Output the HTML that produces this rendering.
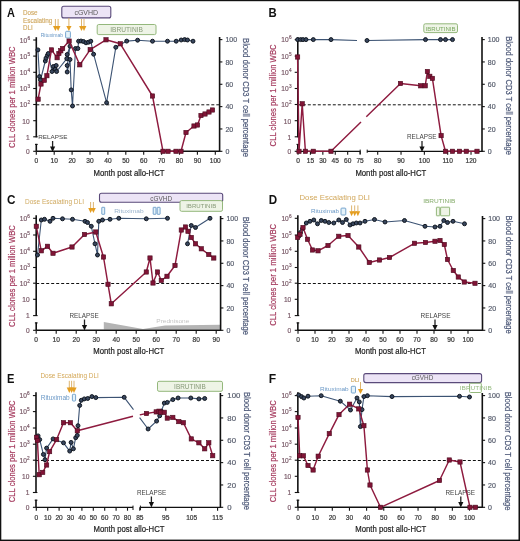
<!DOCTYPE html>
<html><head><meta charset="utf-8"><style>
html,body{margin:0;padding:0;background:#fff;}
body{width:520px;height:541px;overflow:hidden;font-family:"Liberation Sans", sans-serif;}
svg{display:block;will-change:transform;}
</style></head><body>
<svg width="520" height="541" viewBox="0 0 520 541" font-family='"Liberation Sans", sans-serif'><rect x="0" y="0" width="520" height="1.2" fill="#111"/>
<rect x="0" y="0" width="1.3" height="541" fill="#111"/>
<rect x="518.5" y="0" width="1.5" height="541" fill="#111"/>
<rect x="0" y="539.6" width="520" height="1.4" fill="#111"/>
<text transform="translate(7.1 17.1) scale(0.882 1)" font-size="12.4" font-weight="bold" fill="#111">A</text>
<text x="23" y="15.0" font-size="6.9" fill="#d0a962" text-anchor="start" textLength="14.6" lengthAdjust="spacingAndGlyphs" stroke="#d0a962" stroke-width="0.15">Dose</text>
<text x="23" y="22.6" font-size="6.9" fill="#d0a962" text-anchor="start" textLength="29.4" lengthAdjust="spacingAndGlyphs" stroke="#d0a962" stroke-width="0.15">Escalating</text>
<text x="23" y="30.2" font-size="6.9" fill="#d0a962" text-anchor="start" textLength="9.6" lengthAdjust="spacingAndGlyphs" stroke="#d0a962" stroke-width="0.15">DLI</text>
<rect x="61.8" y="6.3" width="49.0" height="11.599999999999998" rx="2" fill="#ece4f6" stroke="#5a4a7a" stroke-width="1.1"/>
<text x="86.3" y="14.6" font-size="7" fill="#5a5a5a" text-anchor="middle">cGVHD</text>
<rect x="97.2" y="24.5" width="58.8" height="10.100000000000001" rx="1.5" fill="#eef4e6" stroke="#94b87c" stroke-width="1"/>
<text x="126.6" y="32.0" font-size="6.6" fill="#879a78" text-anchor="middle">IBRUTINIB</text>
<text x="40.7" y="37.4" font-size="5.0" fill="#6a98c6" text-anchor="start" textLength="22.5" lengthAdjust="spacingAndGlyphs">Rituximab</text>
<rect x="65.6" y="31.3" width="4.800000000000011" height="6.699999999999999" rx="1" fill="#e4f2fa" stroke="#6a9cc8" stroke-width="0.9"/>
<line x1="55.4" y1="19" x2="55.4" y2="26.5" stroke="#d9ad62" stroke-width="0.9"/>
<path d="M53.00,26.00 L57.80,26.00 L55.40,31.00 Z" fill="#e49e22"/>
<line x1="58.1" y1="19" x2="58.1" y2="26.5" stroke="#d9ad62" stroke-width="0.9"/>
<path d="M55.70,26.00 L60.50,26.00 L58.10,31.00 Z" fill="#e49e22"/>
<line x1="68.9" y1="18" x2="68.9" y2="26.5" stroke="#d9ad62" stroke-width="0.9"/>
<path d="M66.30,26.00 L71.50,26.00 L68.90,31.00 Z" fill="#e49e22"/>
<line x1="81.5" y1="19" x2="81.5" y2="26.5" stroke="#d9ad62" stroke-width="0.9"/>
<path d="M79.10,26.00 L83.90,26.00 L81.50,31.00 Z" fill="#e49e22"/>
<line x1="84.0" y1="19" x2="84.0" y2="26.5" stroke="#d9ad62" stroke-width="0.9"/>
<path d="M81.60,26.00 L86.40,26.00 L84.00,31.00 Z" fill="#e49e22"/>
<line x1="36.3" y1="37.2" x2="36.3" y2="137.3" stroke="#111" stroke-width="1.6"/>
<line x1="36.3" y1="143.9" x2="36.3" y2="151.3" stroke="#111" stroke-width="1.6"/>
<line x1="35.0" y1="144.4" x2="37.699999999999996" y2="144.4" stroke="#111" stroke-width="1.1"/>
<line x1="33.199999999999996" y1="40.0" x2="36.3" y2="40.0" stroke="#111" stroke-width="1.1"/>
<text x="27.199999999999996" y="42.8" font-size="6.6" fill="#785866" text-anchor="end" stroke="#785866" stroke-width="0.18">10</text>
<text x="27.4" y="39.7" font-size="4.7" fill="#785866" text-anchor="start" stroke="#785866" stroke-width="0.18">6</text>
<line x1="33.199999999999996" y1="56.1" x2="36.3" y2="56.1" stroke="#111" stroke-width="1.1"/>
<text x="27.199999999999996" y="58.9" font-size="6.6" fill="#785866" text-anchor="end" stroke="#785866" stroke-width="0.18">10</text>
<text x="27.4" y="55.800000000000004" font-size="4.7" fill="#785866" text-anchor="start" stroke="#785866" stroke-width="0.18">5</text>
<line x1="33.199999999999996" y1="72.3" x2="36.3" y2="72.3" stroke="#111" stroke-width="1.1"/>
<text x="27.199999999999996" y="75.1" font-size="6.6" fill="#785866" text-anchor="end" stroke="#785866" stroke-width="0.18">10</text>
<text x="27.4" y="72.0" font-size="4.7" fill="#785866" text-anchor="start" stroke="#785866" stroke-width="0.18">4</text>
<line x1="33.199999999999996" y1="88.5" x2="36.3" y2="88.5" stroke="#111" stroke-width="1.1"/>
<text x="27.199999999999996" y="91.3" font-size="6.6" fill="#785866" text-anchor="end" stroke="#785866" stroke-width="0.18">10</text>
<text x="27.4" y="88.2" font-size="4.7" fill="#785866" text-anchor="start" stroke="#785866" stroke-width="0.18">3</text>
<line x1="33.199999999999996" y1="104.5" x2="36.3" y2="104.5" stroke="#111" stroke-width="1.1"/>
<text x="27.199999999999996" y="107.3" font-size="6.6" fill="#785866" text-anchor="end" stroke="#785866" stroke-width="0.18">10</text>
<text x="27.4" y="104.2" font-size="4.7" fill="#785866" text-anchor="start" stroke="#785866" stroke-width="0.18">2</text>
<line x1="33.199999999999996" y1="120.7" x2="36.3" y2="120.7" stroke="#111" stroke-width="1.1"/>
<text x="29.699999999999996" y="123.5" font-size="6.6" fill="#785866" text-anchor="end" stroke="#785866" stroke-width="0.18">10</text>
<line x1="33.199999999999996" y1="136.8" x2="37.699999999999996" y2="136.8" stroke="#111" stroke-width="1.1"/>
<text x="29.699999999999996" y="139.60000000000002" font-size="6.6" fill="#785866" text-anchor="end" stroke="#785866" stroke-width="0.18">1</text>
<line x1="33.199999999999996" y1="151.3" x2="36.3" y2="151.3" stroke="#111" stroke-width="1.1"/>
<text x="29.699999999999996" y="154.10000000000002" font-size="6.6" fill="#785866" text-anchor="end" stroke="#785866" stroke-width="0.18">0</text>
<line x1="219.6" y1="37.0" x2="219.6" y2="151.9" stroke="#111" stroke-width="1.6"/>
<line x1="219.6" y1="151.3" x2="222.4" y2="151.3" stroke="#111" stroke-width="1.1"/>
<text x="225.4" y="154.0" font-size="7.0" fill="#545a6a" text-anchor="start" stroke="#545a6a" stroke-width="0.18">0</text>
<line x1="219.6" y1="128.96" x2="222.4" y2="128.96" stroke="#111" stroke-width="1.1"/>
<text x="225.4" y="131.66" font-size="7.0" fill="#545a6a" text-anchor="start" stroke="#545a6a" stroke-width="0.18">20</text>
<line x1="219.6" y1="106.62" x2="222.4" y2="106.62" stroke="#111" stroke-width="1.1"/>
<text x="225.4" y="109.32000000000001" font-size="7.0" fill="#545a6a" text-anchor="start" stroke="#545a6a" stroke-width="0.18">40</text>
<line x1="219.6" y1="84.28" x2="222.4" y2="84.28" stroke="#111" stroke-width="1.1"/>
<text x="225.4" y="86.98" font-size="7.0" fill="#545a6a" text-anchor="start" stroke="#545a6a" stroke-width="0.18">60</text>
<line x1="219.6" y1="61.94" x2="222.4" y2="61.94" stroke="#111" stroke-width="1.1"/>
<text x="225.4" y="64.64" font-size="7.0" fill="#545a6a" text-anchor="start" stroke="#545a6a" stroke-width="0.18">80</text>
<line x1="219.6" y1="39.599999999999994" x2="222.4" y2="39.599999999999994" stroke="#111" stroke-width="1.1"/>
<text x="225.4" y="42.3" font-size="7.0" fill="#545a6a" text-anchor="start" stroke="#545a6a" stroke-width="0.18">100</text>
<line x1="36.3" y1="151.3" x2="219.6" y2="151.3" stroke="#111" stroke-width="1.6"/>
<line x1="36.3" y1="151.3" x2="36.3" y2="154.70000000000002" stroke="#111" stroke-width="1.1"/>
<text x="36.3" y="163.4" font-size="6.6" fill="#3a3a3a" text-anchor="middle" stroke="#3a3a3a" stroke-width="0.22">0</text>
<line x1="54.199999999999996" y1="151.3" x2="54.199999999999996" y2="154.70000000000002" stroke="#111" stroke-width="1.1"/>
<text x="54.199999999999996" y="163.4" font-size="6.6" fill="#3a3a3a" text-anchor="middle" stroke="#3a3a3a" stroke-width="0.22">10</text>
<line x1="72.1" y1="151.3" x2="72.1" y2="154.70000000000002" stroke="#111" stroke-width="1.1"/>
<text x="72.1" y="163.4" font-size="6.6" fill="#3a3a3a" text-anchor="middle" stroke="#3a3a3a" stroke-width="0.22">20</text>
<line x1="90.0" y1="151.3" x2="90.0" y2="154.70000000000002" stroke="#111" stroke-width="1.1"/>
<text x="90.0" y="163.4" font-size="6.6" fill="#3a3a3a" text-anchor="middle" stroke="#3a3a3a" stroke-width="0.22">30</text>
<line x1="107.89999999999999" y1="151.3" x2="107.89999999999999" y2="154.70000000000002" stroke="#111" stroke-width="1.1"/>
<text x="107.89999999999999" y="163.4" font-size="6.6" fill="#3a3a3a" text-anchor="middle" stroke="#3a3a3a" stroke-width="0.22">40</text>
<line x1="125.8" y1="151.3" x2="125.8" y2="154.70000000000002" stroke="#111" stroke-width="1.1"/>
<text x="125.8" y="163.4" font-size="6.6" fill="#3a3a3a" text-anchor="middle" stroke="#3a3a3a" stroke-width="0.22">50</text>
<line x1="143.7" y1="151.3" x2="143.7" y2="154.70000000000002" stroke="#111" stroke-width="1.1"/>
<text x="143.7" y="163.4" font-size="6.6" fill="#3a3a3a" text-anchor="middle" stroke="#3a3a3a" stroke-width="0.22">60</text>
<line x1="161.6" y1="151.3" x2="161.6" y2="154.70000000000002" stroke="#111" stroke-width="1.1"/>
<text x="161.6" y="163.4" font-size="6.6" fill="#3a3a3a" text-anchor="middle" stroke="#3a3a3a" stroke-width="0.22">70</text>
<line x1="179.5" y1="151.3" x2="179.5" y2="154.70000000000002" stroke="#111" stroke-width="1.1"/>
<text x="179.5" y="163.4" font-size="6.6" fill="#3a3a3a" text-anchor="middle" stroke="#3a3a3a" stroke-width="0.22">80</text>
<line x1="197.39999999999998" y1="151.3" x2="197.39999999999998" y2="154.70000000000002" stroke="#111" stroke-width="1.1"/>
<text x="197.39999999999998" y="163.4" font-size="6.6" fill="#3a3a3a" text-anchor="middle" stroke="#3a3a3a" stroke-width="0.22">90</text>
<line x1="215.3" y1="151.3" x2="215.3" y2="154.70000000000002" stroke="#111" stroke-width="1.1"/>
<text x="215.3" y="163.4" font-size="6.6" fill="#3a3a3a" text-anchor="middle" stroke="#3a3a3a" stroke-width="0.22">100</text>
<line x1="36.3" y1="104.8" x2="219.6" y2="104.8" stroke="#111" stroke-width="1" stroke-dasharray="3,2"/>
<text x="14.6" y="97.15" font-size="9.2" fill="#a3385c" text-anchor="middle" textLength="101.5" lengthAdjust="spacingAndGlyphs" transform="rotate(-90 14.6 97.15)" stroke="#a3385c" stroke-width="0.2">CLL clones per 1 million WBC</text>
<text x="242.8" y="97.5" font-size="8.7" fill="#4a5676" text-anchor="middle" textLength="118.8" lengthAdjust="spacingAndGlyphs" transform="rotate(90 242.8 97.5)" stroke="#4a5676" stroke-width="0.2">Blood donor CD3 T cell percentage</text>
<text x="129.0" y="176.3" font-size="9.6" fill="#222" text-anchor="middle" textLength="71" lengthAdjust="spacingAndGlyphs" stroke="#222" stroke-width="0.22">Month post allo-HCT</text>
<text x="38.2" y="139.1" font-size="6.2" fill="#454545" text-anchor="start" textLength="29.3" lengthAdjust="spacingAndGlyphs">RELAPSE</text>
<line x1="52.6" y1="141" x2="52.6" y2="148" stroke="#222" stroke-width="1.3"/>
<path d="M50.00,146.40 L55.20,146.40 L52.60,152.00 Z" fill="#111"/>
<polyline points="37.90,49.90 39.50,76.60 40.50,80.00 45.30,61.00 46.00,58.20 47.40,55.40 48.30,53.50 52.00,71.50 53.40,66.50 55.20,69.20 56.20,65.50 56.60,71.50 66.80,58.60 67.20,54.50 70.00,46.20 67.20,65.50 67.20,72.00 70.00,59.50 71.20,89.90 72.50,106.00 75.50,48.50 77.90,48.50 78.60,41.20 81.00,41.00 83.50,41.50 86.00,42.80 88.50,42.20 90.80,41.20 93.60,54.20 106.60,102.70 115.80,47.30 126.70,41.10 137.60,40.20 152.50,41.20 167.50,41.20 176.20,41.20 181.20,40.00 184.60,39.60 187.50,40.00 193.00,41.20" fill="none" stroke="#3c5373" stroke-width="1.1" stroke-linejoin="round"/>
<circle cx="37.90" cy="49.90" r="1.98" fill="#38465e" stroke="#0d131b" stroke-width="0.95"/>
<circle cx="39.50" cy="76.60" r="1.98" fill="#38465e" stroke="#0d131b" stroke-width="0.95"/>
<circle cx="40.50" cy="80.00" r="1.98" fill="#38465e" stroke="#0d131b" stroke-width="0.95"/>
<circle cx="45.30" cy="61.00" r="1.98" fill="#38465e" stroke="#0d131b" stroke-width="0.95"/>
<circle cx="46.00" cy="58.20" r="1.98" fill="#38465e" stroke="#0d131b" stroke-width="0.95"/>
<circle cx="47.40" cy="55.40" r="1.98" fill="#38465e" stroke="#0d131b" stroke-width="0.95"/>
<circle cx="48.30" cy="53.50" r="1.98" fill="#38465e" stroke="#0d131b" stroke-width="0.95"/>
<circle cx="52.00" cy="71.50" r="1.98" fill="#38465e" stroke="#0d131b" stroke-width="0.95"/>
<circle cx="53.40" cy="66.50" r="1.98" fill="#38465e" stroke="#0d131b" stroke-width="0.95"/>
<circle cx="55.20" cy="69.20" r="1.98" fill="#38465e" stroke="#0d131b" stroke-width="0.95"/>
<circle cx="56.20" cy="65.50" r="1.98" fill="#38465e" stroke="#0d131b" stroke-width="0.95"/>
<circle cx="56.60" cy="71.50" r="1.98" fill="#38465e" stroke="#0d131b" stroke-width="0.95"/>
<circle cx="66.80" cy="58.60" r="1.98" fill="#38465e" stroke="#0d131b" stroke-width="0.95"/>
<circle cx="67.20" cy="54.50" r="1.98" fill="#38465e" stroke="#0d131b" stroke-width="0.95"/>
<circle cx="70.00" cy="46.20" r="1.98" fill="#38465e" stroke="#0d131b" stroke-width="0.95"/>
<circle cx="67.20" cy="65.50" r="1.98" fill="#38465e" stroke="#0d131b" stroke-width="0.95"/>
<circle cx="67.20" cy="72.00" r="1.98" fill="#38465e" stroke="#0d131b" stroke-width="0.95"/>
<circle cx="70.00" cy="59.50" r="1.98" fill="#38465e" stroke="#0d131b" stroke-width="0.95"/>
<circle cx="71.20" cy="89.90" r="1.98" fill="#38465e" stroke="#0d131b" stroke-width="0.95"/>
<circle cx="72.50" cy="106.00" r="1.98" fill="#38465e" stroke="#0d131b" stroke-width="0.95"/>
<circle cx="75.50" cy="48.50" r="1.98" fill="#38465e" stroke="#0d131b" stroke-width="0.95"/>
<circle cx="77.90" cy="48.50" r="1.98" fill="#38465e" stroke="#0d131b" stroke-width="0.95"/>
<circle cx="78.60" cy="41.20" r="1.98" fill="#38465e" stroke="#0d131b" stroke-width="0.95"/>
<circle cx="81.00" cy="41.00" r="1.98" fill="#38465e" stroke="#0d131b" stroke-width="0.95"/>
<circle cx="83.50" cy="41.50" r="1.98" fill="#38465e" stroke="#0d131b" stroke-width="0.95"/>
<circle cx="86.00" cy="42.80" r="1.98" fill="#38465e" stroke="#0d131b" stroke-width="0.95"/>
<circle cx="88.50" cy="42.20" r="1.98" fill="#38465e" stroke="#0d131b" stroke-width="0.95"/>
<circle cx="90.80" cy="41.20" r="1.98" fill="#38465e" stroke="#0d131b" stroke-width="0.95"/>
<circle cx="93.60" cy="54.20" r="1.98" fill="#38465e" stroke="#0d131b" stroke-width="0.95"/>
<circle cx="106.60" cy="102.70" r="1.98" fill="#38465e" stroke="#0d131b" stroke-width="0.95"/>
<circle cx="115.80" cy="47.30" r="1.98" fill="#38465e" stroke="#0d131b" stroke-width="0.95"/>
<circle cx="126.70" cy="41.10" r="1.98" fill="#38465e" stroke="#0d131b" stroke-width="0.95"/>
<circle cx="137.60" cy="40.20" r="1.98" fill="#38465e" stroke="#0d131b" stroke-width="0.95"/>
<circle cx="152.50" cy="41.20" r="1.98" fill="#38465e" stroke="#0d131b" stroke-width="0.95"/>
<circle cx="167.50" cy="41.20" r="1.98" fill="#38465e" stroke="#0d131b" stroke-width="0.95"/>
<circle cx="176.20" cy="41.20" r="1.98" fill="#38465e" stroke="#0d131b" stroke-width="0.95"/>
<circle cx="181.20" cy="40.00" r="1.98" fill="#38465e" stroke="#0d131b" stroke-width="0.95"/>
<circle cx="184.60" cy="39.60" r="1.98" fill="#38465e" stroke="#0d131b" stroke-width="0.95"/>
<circle cx="187.50" cy="40.00" r="1.98" fill="#38465e" stroke="#0d131b" stroke-width="0.95"/>
<circle cx="193.00" cy="41.20" r="1.98" fill="#38465e" stroke="#0d131b" stroke-width="0.95"/>
<polyline points="38.10,99.20 41.00,84.00 44.30,80.30 46.90,75.70 51.50,49.90 57.10,57.70 58.90,53.50 60.80,50.80 62.60,48.50 69.10,41.10 79.80,64.80 90.20,49.60 106.00,39.80 120.30,43.80 152.50,96.00 163.00,151.30 168.00,151.30 176.00,151.30 181.00,151.30 186.00,132.50 194.00,126.00 197.50,125.00 201.00,115.50 205.00,114.00 209.00,112.00 212.50,110.00" fill="none" stroke="#8e1b3f" stroke-width="1.45" stroke-linejoin="round"/>
<rect x="35.95" y="97.05" width="4.3" height="4.3" fill="#801436" stroke="#4a0a1e" stroke-width="0.6"/>
<rect x="38.85" y="81.85" width="4.3" height="4.3" fill="#801436" stroke="#4a0a1e" stroke-width="0.6"/>
<rect x="42.15" y="78.15" width="4.3" height="4.3" fill="#801436" stroke="#4a0a1e" stroke-width="0.6"/>
<rect x="44.75" y="73.55" width="4.3" height="4.3" fill="#801436" stroke="#4a0a1e" stroke-width="0.6"/>
<rect x="49.35" y="47.75" width="4.3" height="4.3" fill="#801436" stroke="#4a0a1e" stroke-width="0.6"/>
<rect x="54.95" y="55.55" width="4.3" height="4.3" fill="#801436" stroke="#4a0a1e" stroke-width="0.6"/>
<rect x="56.75" y="51.35" width="4.3" height="4.3" fill="#801436" stroke="#4a0a1e" stroke-width="0.6"/>
<rect x="58.65" y="48.65" width="4.3" height="4.3" fill="#801436" stroke="#4a0a1e" stroke-width="0.6"/>
<rect x="60.45" y="46.35" width="4.3" height="4.3" fill="#801436" stroke="#4a0a1e" stroke-width="0.6"/>
<rect x="66.95" y="38.95" width="4.3" height="4.3" fill="#801436" stroke="#4a0a1e" stroke-width="0.6"/>
<rect x="77.65" y="62.65" width="4.3" height="4.3" fill="#801436" stroke="#4a0a1e" stroke-width="0.6"/>
<rect x="88.05" y="47.45" width="4.3" height="4.3" fill="#801436" stroke="#4a0a1e" stroke-width="0.6"/>
<rect x="103.85" y="37.65" width="4.3" height="4.3" fill="#801436" stroke="#4a0a1e" stroke-width="0.6"/>
<rect x="118.15" y="41.65" width="4.3" height="4.3" fill="#801436" stroke="#4a0a1e" stroke-width="0.6"/>
<rect x="150.35" y="93.85" width="4.3" height="4.3" fill="#801436" stroke="#4a0a1e" stroke-width="0.6"/>
<rect x="160.85" y="149.15" width="4.3" height="4.3" fill="#801436" stroke="#4a0a1e" stroke-width="0.6"/>
<rect x="165.85" y="149.15" width="4.3" height="4.3" fill="#801436" stroke="#4a0a1e" stroke-width="0.6"/>
<rect x="173.85" y="149.15" width="4.3" height="4.3" fill="#801436" stroke="#4a0a1e" stroke-width="0.6"/>
<rect x="178.85" y="149.15" width="4.3" height="4.3" fill="#801436" stroke="#4a0a1e" stroke-width="0.6"/>
<rect x="183.85" y="130.35" width="4.3" height="4.3" fill="#801436" stroke="#4a0a1e" stroke-width="0.6"/>
<rect x="191.85" y="123.85" width="4.3" height="4.3" fill="#801436" stroke="#4a0a1e" stroke-width="0.6"/>
<rect x="195.35" y="122.85" width="4.3" height="4.3" fill="#801436" stroke="#4a0a1e" stroke-width="0.6"/>
<rect x="198.85" y="113.35" width="4.3" height="4.3" fill="#801436" stroke="#4a0a1e" stroke-width="0.6"/>
<rect x="202.85" y="111.85" width="4.3" height="4.3" fill="#801436" stroke="#4a0a1e" stroke-width="0.6"/>
<rect x="206.85" y="109.85" width="4.3" height="4.3" fill="#801436" stroke="#4a0a1e" stroke-width="0.6"/>
<rect x="210.35" y="107.85" width="4.3" height="4.3" fill="#801436" stroke="#4a0a1e" stroke-width="0.6"/>
<text transform="translate(268.6 17.3) scale(0.916 1)" font-size="12.4" font-weight="bold" fill="#111">B</text>
<rect x="423.8" y="23.8" width="33.69999999999999" height="8.8" rx="1.5" fill="#eef4e6" stroke="#94b87c" stroke-width="1"/>
<text x="440.6" y="30.8" font-size="6.2" fill="#7aa860" text-anchor="middle" textLength="30" lengthAdjust="spacingAndGlyphs">IBRUTINIB</text>
<line x1="297.8" y1="37.2" x2="297.8" y2="137.3" stroke="#111" stroke-width="1.6"/>
<line x1="297.8" y1="143.9" x2="297.8" y2="151.3" stroke="#111" stroke-width="1.6"/>
<line x1="296.5" y1="144.4" x2="299.2" y2="144.4" stroke="#111" stroke-width="1.1"/>
<line x1="294.7" y1="39.6" x2="297.8" y2="39.6" stroke="#111" stroke-width="1.1"/>
<text x="288.7" y="42.4" font-size="6.6" fill="#785866" text-anchor="end" stroke="#785866" stroke-width="0.18">10</text>
<text x="288.90000000000003" y="39.300000000000004" font-size="4.7" fill="#785866" text-anchor="start" stroke="#785866" stroke-width="0.18">6</text>
<line x1="294.7" y1="56.1" x2="297.8" y2="56.1" stroke="#111" stroke-width="1.1"/>
<text x="288.7" y="58.9" font-size="6.6" fill="#785866" text-anchor="end" stroke="#785866" stroke-width="0.18">10</text>
<text x="288.90000000000003" y="55.800000000000004" font-size="4.7" fill="#785866" text-anchor="start" stroke="#785866" stroke-width="0.18">5</text>
<line x1="294.7" y1="72.3" x2="297.8" y2="72.3" stroke="#111" stroke-width="1.1"/>
<text x="288.7" y="75.1" font-size="6.6" fill="#785866" text-anchor="end" stroke="#785866" stroke-width="0.18">10</text>
<text x="288.90000000000003" y="72.0" font-size="4.7" fill="#785866" text-anchor="start" stroke="#785866" stroke-width="0.18">4</text>
<line x1="294.7" y1="88.5" x2="297.8" y2="88.5" stroke="#111" stroke-width="1.1"/>
<text x="288.7" y="91.3" font-size="6.6" fill="#785866" text-anchor="end" stroke="#785866" stroke-width="0.18">10</text>
<text x="288.90000000000003" y="88.2" font-size="4.7" fill="#785866" text-anchor="start" stroke="#785866" stroke-width="0.18">3</text>
<line x1="294.7" y1="104.5" x2="297.8" y2="104.5" stroke="#111" stroke-width="1.1"/>
<text x="288.7" y="107.3" font-size="6.6" fill="#785866" text-anchor="end" stroke="#785866" stroke-width="0.18">10</text>
<text x="288.90000000000003" y="104.2" font-size="4.7" fill="#785866" text-anchor="start" stroke="#785866" stroke-width="0.18">2</text>
<line x1="294.7" y1="120.7" x2="297.8" y2="120.7" stroke="#111" stroke-width="1.1"/>
<text x="291.2" y="123.5" font-size="6.6" fill="#785866" text-anchor="end" stroke="#785866" stroke-width="0.18">10</text>
<line x1="294.7" y1="136.8" x2="299.2" y2="136.8" stroke="#111" stroke-width="1.1"/>
<text x="291.2" y="139.60000000000002" font-size="6.6" fill="#785866" text-anchor="end" stroke="#785866" stroke-width="0.18">1</text>
<line x1="294.7" y1="151.3" x2="297.8" y2="151.3" stroke="#111" stroke-width="1.1"/>
<text x="291.2" y="154.10000000000002" font-size="6.6" fill="#785866" text-anchor="end" stroke="#785866" stroke-width="0.18">0</text>
<line x1="482.0" y1="37.0" x2="482.0" y2="151.9" stroke="#111" stroke-width="1.6"/>
<line x1="482.0" y1="151.3" x2="484.8" y2="151.3" stroke="#111" stroke-width="1.1"/>
<text x="487.8" y="154.0" font-size="7.0" fill="#545a6a" text-anchor="start" stroke="#545a6a" stroke-width="0.18">0</text>
<line x1="482.0" y1="128.96" x2="484.8" y2="128.96" stroke="#111" stroke-width="1.1"/>
<text x="487.8" y="131.66" font-size="7.0" fill="#545a6a" text-anchor="start" stroke="#545a6a" stroke-width="0.18">20</text>
<line x1="482.0" y1="106.62" x2="484.8" y2="106.62" stroke="#111" stroke-width="1.1"/>
<text x="487.8" y="109.32000000000001" font-size="7.0" fill="#545a6a" text-anchor="start" stroke="#545a6a" stroke-width="0.18">40</text>
<line x1="482.0" y1="84.28" x2="484.8" y2="84.28" stroke="#111" stroke-width="1.1"/>
<text x="487.8" y="86.98" font-size="7.0" fill="#545a6a" text-anchor="start" stroke="#545a6a" stroke-width="0.18">60</text>
<line x1="482.0" y1="61.94" x2="484.8" y2="61.94" stroke="#111" stroke-width="1.1"/>
<text x="487.8" y="64.64" font-size="7.0" fill="#545a6a" text-anchor="start" stroke="#545a6a" stroke-width="0.18">80</text>
<line x1="482.0" y1="39.599999999999994" x2="484.8" y2="39.599999999999994" stroke="#111" stroke-width="1.1"/>
<text x="487.8" y="42.3" font-size="7.0" fill="#545a6a" text-anchor="start" stroke="#545a6a" stroke-width="0.18">100</text>
<line x1="297.8" y1="151.3" x2="360.2" y2="151.3" stroke="#111" stroke-width="1.2"/>
<line x1="367.2" y1="151.3" x2="482.0" y2="151.3" stroke="#111" stroke-width="1.2"/>
<line x1="360.2" y1="149.6" x2="360.2" y2="154.0" stroke="#111" stroke-width="1"/>
<line x1="367.2" y1="149.6" x2="367.2" y2="152.8" stroke="#111" stroke-width="1"/>
<line x1="298.0" y1="151.3" x2="298.0" y2="154.70000000000002" stroke="#111" stroke-width="1.1"/>
<text x="298.0" y="163.4" font-size="6.6" fill="#3a3a3a" text-anchor="middle" stroke="#3a3a3a" stroke-width="0.22">0</text>
<line x1="310.42" y1="151.3" x2="310.42" y2="154.70000000000002" stroke="#111" stroke-width="1.1"/>
<text x="310.42" y="163.4" font-size="6.6" fill="#3a3a3a" text-anchor="middle" stroke="#3a3a3a" stroke-width="0.22">15</text>
<line x1="322.84" y1="151.3" x2="322.84" y2="154.70000000000002" stroke="#111" stroke-width="1.1"/>
<text x="322.84" y="163.4" font-size="6.6" fill="#3a3a3a" text-anchor="middle" stroke="#3a3a3a" stroke-width="0.22">30</text>
<line x1="335.26" y1="151.3" x2="335.26" y2="154.70000000000002" stroke="#111" stroke-width="1.1"/>
<text x="335.26" y="163.4" font-size="6.6" fill="#3a3a3a" text-anchor="middle" stroke="#3a3a3a" stroke-width="0.22">45</text>
<line x1="347.68" y1="151.3" x2="347.68" y2="154.70000000000002" stroke="#111" stroke-width="1.1"/>
<text x="347.68" y="163.4" font-size="6.6" fill="#3a3a3a" text-anchor="middle" stroke="#3a3a3a" stroke-width="0.22">60</text>
<line x1="360.1" y1="151.3" x2="360.1" y2="154.70000000000002" stroke="#111" stroke-width="1.1"/>
<text x="360.1" y="163.4" font-size="6.6" fill="#3a3a3a" text-anchor="middle" stroke="#3a3a3a" stroke-width="0.22">75</text>
<line x1="377.7" y1="151.3" x2="377.7" y2="154.70000000000002" stroke="#111" stroke-width="1.1"/>
<text x="377.7" y="163.4" font-size="6.6" fill="#3a3a3a" text-anchor="middle" stroke="#3a3a3a" stroke-width="0.22">80</text>
<line x1="401.03" y1="151.3" x2="401.03" y2="154.70000000000002" stroke="#111" stroke-width="1.1"/>
<text x="401.03" y="163.4" font-size="6.6" fill="#3a3a3a" text-anchor="middle" stroke="#3a3a3a" stroke-width="0.22">90</text>
<line x1="424.36" y1="151.3" x2="424.36" y2="154.70000000000002" stroke="#111" stroke-width="1.1"/>
<text x="424.36" y="163.4" font-size="6.6" fill="#3a3a3a" text-anchor="middle" stroke="#3a3a3a" stroke-width="0.22">100</text>
<line x1="447.69" y1="151.3" x2="447.69" y2="154.70000000000002" stroke="#111" stroke-width="1.1"/>
<text x="447.69" y="163.4" font-size="6.6" fill="#3a3a3a" text-anchor="middle" stroke="#3a3a3a" stroke-width="0.22">110</text>
<line x1="471.02" y1="151.3" x2="471.02" y2="154.70000000000002" stroke="#111" stroke-width="1.1"/>
<text x="471.02" y="163.4" font-size="6.6" fill="#3a3a3a" text-anchor="middle" stroke="#3a3a3a" stroke-width="0.22">120</text>
<line x1="297.8" y1="104.8" x2="482.0" y2="104.8" stroke="#111" stroke-width="1" stroke-dasharray="3,2"/>
<text x="275.7" y="95.4" font-size="9.2" fill="#a3385c" text-anchor="middle" textLength="102" lengthAdjust="spacingAndGlyphs" transform="rotate(-90 275.7 95.4)" stroke="#a3385c" stroke-width="0.2">CLL clones per 1 million WBC</text>
<text x="505.6" y="95.6" font-size="8.7" fill="#4a5676" text-anchor="middle" textLength="118.6" lengthAdjust="spacingAndGlyphs" transform="rotate(90 505.6 95.6)" stroke="#4a5676" stroke-width="0.2">Blood donor CD3 T cell percentage</text>
<text x="390.8" y="175.9" font-size="9.6" fill="#222" text-anchor="middle" textLength="70.8" lengthAdjust="spacingAndGlyphs" stroke="#222" stroke-width="0.22">Month post allo-HCT</text>
<text x="407" y="139.4" font-size="6.4" fill="#454545" text-anchor="start" textLength="29.5" lengthAdjust="spacingAndGlyphs">RELAPSE</text>
<line x1="422" y1="141" x2="422" y2="148" stroke="#222" stroke-width="1.3"/>
<path d="M419.40,146.40 L424.60,146.40 L422.00,152.00 Z" fill="#111"/>
<polyline points="297.60,39.60 300.60,39.60 303.00,39.60 306.00,39.60 313.30,39.60 331.00,39.60 357.00,40.50" fill="none" stroke="#3c5373" stroke-width="1.1" stroke-linejoin="round"/>
<polyline points="365.00,40.50 367.00,40.50 425.50,39.60 440.50,39.60 445.50,39.60 452.50,39.60" fill="none" stroke="#3c5373" stroke-width="1.1" stroke-linejoin="round"/>
<circle cx="297.60" cy="39.60" r="1.98" fill="#38465e" stroke="#0d131b" stroke-width="0.95"/>
<circle cx="300.60" cy="39.60" r="1.98" fill="#38465e" stroke="#0d131b" stroke-width="0.95"/>
<circle cx="303.00" cy="39.60" r="1.98" fill="#38465e" stroke="#0d131b" stroke-width="0.95"/>
<circle cx="306.00" cy="39.60" r="1.98" fill="#38465e" stroke="#0d131b" stroke-width="0.95"/>
<circle cx="313.30" cy="39.60" r="1.98" fill="#38465e" stroke="#0d131b" stroke-width="0.95"/>
<circle cx="331.00" cy="39.60" r="1.98" fill="#38465e" stroke="#0d131b" stroke-width="0.95"/>
<circle cx="367.00" cy="40.50" r="1.98" fill="#38465e" stroke="#0d131b" stroke-width="0.95"/>
<circle cx="425.50" cy="39.60" r="1.98" fill="#38465e" stroke="#0d131b" stroke-width="0.95"/>
<circle cx="440.50" cy="39.60" r="1.98" fill="#38465e" stroke="#0d131b" stroke-width="0.95"/>
<circle cx="445.50" cy="39.60" r="1.98" fill="#38465e" stroke="#0d131b" stroke-width="0.95"/>
<circle cx="452.50" cy="39.60" r="1.98" fill="#38465e" stroke="#0d131b" stroke-width="0.95"/>
<polyline points="297.60,57.00 299.00,151.30 302.20,103.80 305.40,151.30 313.30,151.30 331.00,151.30 361.00,122.00" fill="none" stroke="#8e1b3f" stroke-width="1.45" stroke-linejoin="round"/>
<polyline points="366.30,116.80 400.50,83.50 420.80,85.80 425.20,85.80 427.40,71.50 429.80,76.30 432.40,78.40 441.10,135.60 445.50,151.30 452.50,151.30 459.50,151.30 466.30,151.30 477.00,151.30" fill="none" stroke="#8e1b3f" stroke-width="1.45" stroke-linejoin="round"/>
<rect x="295.45" y="54.85" width="4.3" height="4.3" fill="#801436" stroke="#4a0a1e" stroke-width="0.6"/>
<rect x="296.85" y="149.15" width="4.3" height="4.3" fill="#801436" stroke="#4a0a1e" stroke-width="0.6"/>
<rect x="300.05" y="101.65" width="4.3" height="4.3" fill="#801436" stroke="#4a0a1e" stroke-width="0.6"/>
<rect x="303.25" y="149.15" width="4.3" height="4.3" fill="#801436" stroke="#4a0a1e" stroke-width="0.6"/>
<rect x="311.15" y="149.15" width="4.3" height="4.3" fill="#801436" stroke="#4a0a1e" stroke-width="0.6"/>
<rect x="328.85" y="149.15" width="4.3" height="4.3" fill="#801436" stroke="#4a0a1e" stroke-width="0.6"/>
<rect x="398.35" y="81.35" width="4.3" height="4.3" fill="#801436" stroke="#4a0a1e" stroke-width="0.6"/>
<rect x="418.65" y="83.65" width="4.3" height="4.3" fill="#801436" stroke="#4a0a1e" stroke-width="0.6"/>
<rect x="423.05" y="83.65" width="4.3" height="4.3" fill="#801436" stroke="#4a0a1e" stroke-width="0.6"/>
<rect x="425.25" y="69.35" width="4.3" height="4.3" fill="#801436" stroke="#4a0a1e" stroke-width="0.6"/>
<rect x="427.65" y="74.15" width="4.3" height="4.3" fill="#801436" stroke="#4a0a1e" stroke-width="0.6"/>
<rect x="430.25" y="76.25" width="4.3" height="4.3" fill="#801436" stroke="#4a0a1e" stroke-width="0.6"/>
<rect x="438.95" y="133.45" width="4.3" height="4.3" fill="#801436" stroke="#4a0a1e" stroke-width="0.6"/>
<rect x="443.35" y="149.15" width="4.3" height="4.3" fill="#801436" stroke="#4a0a1e" stroke-width="0.6"/>
<rect x="450.35" y="149.15" width="4.3" height="4.3" fill="#801436" stroke="#4a0a1e" stroke-width="0.6"/>
<rect x="457.35" y="149.15" width="4.3" height="4.3" fill="#801436" stroke="#4a0a1e" stroke-width="0.6"/>
<rect x="464.15" y="149.15" width="4.3" height="4.3" fill="#801436" stroke="#4a0a1e" stroke-width="0.6"/>
<rect x="474.85" y="149.15" width="4.3" height="4.3" fill="#801436" stroke="#4a0a1e" stroke-width="0.6"/>
<text transform="translate(7.0 204.0) scale(0.949 1)" font-size="12.4" font-weight="bold" fill="#111">C</text>
<text x="25" y="203.7" font-size="6.8" fill="#d0aa60" text-anchor="start" textLength="59" lengthAdjust="spacingAndGlyphs">Dose Escalating DLI</text>
<line x1="90.6" y1="202" x2="90.6" y2="208.5" stroke="#d9ad62" stroke-width="0.9"/>
<path d="M88.20,208.00 L93.00,208.00 L90.60,213.00 Z" fill="#e49e22"/>
<line x1="93.4" y1="202" x2="93.4" y2="208.5" stroke="#d9ad62" stroke-width="0.9"/>
<path d="M91.00,208.00 L95.80,208.00 L93.40,213.00 Z" fill="#e49e22"/>
<rect x="99.5" y="193.3" width="123.19999999999999" height="8.899999999999977" rx="2" fill="#ece4f6" stroke="#5a4a7a" stroke-width="1.1"/>
<text x="161.2" y="200.6" font-size="6.4" fill="#5a5a5a" text-anchor="middle">cGVHD</text>
<rect x="180.0" y="200.6" width="42.5" height="10.700000000000017" rx="1.5" fill="#eef4e6" stroke="#94b87c" stroke-width="1"/>
<text x="201.2" y="208.3" font-size="6.0" fill="#879a78" text-anchor="middle" textLength="30" lengthAdjust="spacingAndGlyphs">IBRUTINIB</text>
<rect x="101.8" y="207.3" width="2.9000000000000057" height="7.0" rx="0.3" fill="#e4f2fa" stroke="#6a9cc8" stroke-width="0.9"/>
<text x="114.2" y="213.0" font-size="6.2" fill="#98b2cc" text-anchor="start" textLength="29.4" lengthAdjust="spacingAndGlyphs">Rituximab</text>
<rect x="153.2" y="207.3" width="2.8000000000000114" height="7.0" rx="0.3" fill="#e4f2fa" stroke="#6a9cc8" stroke-width="0.9"/>
<rect x="157.2" y="207.3" width="2.9000000000000057" height="7.0" rx="0.3" fill="#e4f2fa" stroke="#6a9cc8" stroke-width="0.9"/>
<path d="M103.8,322 L143,329 L165,325.4 L220.5,324.8 L220.5,329.6 L103.8,329.6 Z" fill="#b4b4b4"/>
<text x="156.3" y="323.2" font-size="6.0" fill="#c4c4c4" text-anchor="start" textLength="33" lengthAdjust="spacingAndGlyphs">Prednisone</text>
<line x1="36.2" y1="215.2" x2="36.2" y2="316.1" stroke="#111" stroke-width="1.6"/>
<line x1="36.2" y1="322.4" x2="36.2" y2="330.3" stroke="#111" stroke-width="1.6"/>
<line x1="34.900000000000006" y1="322.9" x2="37.6" y2="322.9" stroke="#111" stroke-width="1.1"/>
<line x1="33.1" y1="218.3" x2="36.2" y2="218.3" stroke="#111" stroke-width="1.1"/>
<text x="27.1" y="221.10000000000002" font-size="6.6" fill="#785866" text-anchor="end" stroke="#785866" stroke-width="0.18">10</text>
<text x="27.300000000000004" y="218.0" font-size="4.7" fill="#785866" text-anchor="start" stroke="#785866" stroke-width="0.18">6</text>
<line x1="33.1" y1="235.0" x2="36.2" y2="235.0" stroke="#111" stroke-width="1.1"/>
<text x="27.1" y="237.8" font-size="6.6" fill="#785866" text-anchor="end" stroke="#785866" stroke-width="0.18">10</text>
<text x="27.300000000000004" y="234.7" font-size="4.7" fill="#785866" text-anchor="start" stroke="#785866" stroke-width="0.18">5</text>
<line x1="33.1" y1="251.3" x2="36.2" y2="251.3" stroke="#111" stroke-width="1.1"/>
<text x="27.1" y="254.10000000000002" font-size="6.6" fill="#785866" text-anchor="end" stroke="#785866" stroke-width="0.18">10</text>
<text x="27.300000000000004" y="251.0" font-size="4.7" fill="#785866" text-anchor="start" stroke="#785866" stroke-width="0.18">4</text>
<line x1="33.1" y1="267.5" x2="36.2" y2="267.5" stroke="#111" stroke-width="1.1"/>
<text x="27.1" y="270.3" font-size="6.6" fill="#785866" text-anchor="end" stroke="#785866" stroke-width="0.18">10</text>
<text x="27.300000000000004" y="267.2" font-size="4.7" fill="#785866" text-anchor="start" stroke="#785866" stroke-width="0.18">3</text>
<line x1="33.1" y1="283.2" x2="36.2" y2="283.2" stroke="#111" stroke-width="1.1"/>
<text x="27.1" y="286.0" font-size="6.6" fill="#785866" text-anchor="end" stroke="#785866" stroke-width="0.18">10</text>
<text x="27.300000000000004" y="282.9" font-size="4.7" fill="#785866" text-anchor="start" stroke="#785866" stroke-width="0.18">2</text>
<line x1="33.1" y1="299.3" x2="36.2" y2="299.3" stroke="#111" stroke-width="1.1"/>
<text x="29.6" y="302.1" font-size="6.6" fill="#785866" text-anchor="end" stroke="#785866" stroke-width="0.18">10</text>
<line x1="33.1" y1="315.6" x2="37.6" y2="315.6" stroke="#111" stroke-width="1.1"/>
<text x="29.6" y="318.40000000000003" font-size="6.6" fill="#785866" text-anchor="end" stroke="#785866" stroke-width="0.18">1</text>
<line x1="33.1" y1="330.3" x2="36.2" y2="330.3" stroke="#111" stroke-width="1.1"/>
<text x="29.6" y="333.1" font-size="6.6" fill="#785866" text-anchor="end" stroke="#785866" stroke-width="0.18">0</text>
<line x1="220.6" y1="216.0" x2="220.6" y2="330.90000000000003" stroke="#111" stroke-width="1.6"/>
<line x1="220.6" y1="330.3" x2="223.4" y2="330.3" stroke="#111" stroke-width="1.1"/>
<text x="226.4" y="333.0" font-size="7.0" fill="#545a6a" text-anchor="start" stroke="#545a6a" stroke-width="0.18">0</text>
<line x1="220.6" y1="307.96000000000004" x2="223.4" y2="307.96000000000004" stroke="#111" stroke-width="1.1"/>
<text x="226.4" y="310.66" font-size="7.0" fill="#545a6a" text-anchor="start" stroke="#545a6a" stroke-width="0.18">20</text>
<line x1="220.6" y1="285.62" x2="223.4" y2="285.62" stroke="#111" stroke-width="1.1"/>
<text x="226.4" y="288.32" font-size="7.0" fill="#545a6a" text-anchor="start" stroke="#545a6a" stroke-width="0.18">40</text>
<line x1="220.6" y1="263.28" x2="223.4" y2="263.28" stroke="#111" stroke-width="1.1"/>
<text x="226.4" y="265.97999999999996" font-size="7.0" fill="#545a6a" text-anchor="start" stroke="#545a6a" stroke-width="0.18">60</text>
<line x1="220.6" y1="240.94" x2="223.4" y2="240.94" stroke="#111" stroke-width="1.1"/>
<text x="226.4" y="243.64" font-size="7.0" fill="#545a6a" text-anchor="start" stroke="#545a6a" stroke-width="0.18">80</text>
<line x1="220.6" y1="218.6" x2="223.4" y2="218.6" stroke="#111" stroke-width="1.1"/>
<text x="226.4" y="221.29999999999998" font-size="7.0" fill="#545a6a" text-anchor="start" stroke="#545a6a" stroke-width="0.18">100</text>
<line x1="36.2" y1="330.3" x2="220.6" y2="330.3" stroke="#111" stroke-width="1.6"/>
<line x1="36.2" y1="330.3" x2="36.2" y2="333.7" stroke="#111" stroke-width="1.1"/>
<text x="36.2" y="342.4" font-size="6.6" fill="#3a3a3a" text-anchor="middle" stroke="#3a3a3a" stroke-width="0.22">0</text>
<line x1="56.2" y1="330.3" x2="56.2" y2="333.7" stroke="#111" stroke-width="1.1"/>
<text x="56.2" y="342.4" font-size="6.6" fill="#3a3a3a" text-anchor="middle" stroke="#3a3a3a" stroke-width="0.22">10</text>
<line x1="76.2" y1="330.3" x2="76.2" y2="333.7" stroke="#111" stroke-width="1.1"/>
<text x="76.2" y="342.4" font-size="6.6" fill="#3a3a3a" text-anchor="middle" stroke="#3a3a3a" stroke-width="0.22">20</text>
<line x1="96.2" y1="330.3" x2="96.2" y2="333.7" stroke="#111" stroke-width="1.1"/>
<text x="96.2" y="342.4" font-size="6.6" fill="#3a3a3a" text-anchor="middle" stroke="#3a3a3a" stroke-width="0.22">30</text>
<line x1="116.2" y1="330.3" x2="116.2" y2="333.7" stroke="#111" stroke-width="1.1"/>
<text x="116.2" y="342.4" font-size="6.6" fill="#3a3a3a" text-anchor="middle" stroke="#3a3a3a" stroke-width="0.22">40</text>
<line x1="136.2" y1="330.3" x2="136.2" y2="333.7" stroke="#111" stroke-width="1.1"/>
<text x="136.2" y="342.4" font-size="6.6" fill="#3a3a3a" text-anchor="middle" stroke="#3a3a3a" stroke-width="0.22">50</text>
<line x1="156.2" y1="330.3" x2="156.2" y2="333.7" stroke="#111" stroke-width="1.1"/>
<text x="156.2" y="342.4" font-size="6.6" fill="#3a3a3a" text-anchor="middle" stroke="#3a3a3a" stroke-width="0.22">60</text>
<line x1="176.2" y1="330.3" x2="176.2" y2="333.7" stroke="#111" stroke-width="1.1"/>
<text x="176.2" y="342.4" font-size="6.6" fill="#3a3a3a" text-anchor="middle" stroke="#3a3a3a" stroke-width="0.22">70</text>
<line x1="196.2" y1="330.3" x2="196.2" y2="333.7" stroke="#111" stroke-width="1.1"/>
<text x="196.2" y="342.4" font-size="6.6" fill="#3a3a3a" text-anchor="middle" stroke="#3a3a3a" stroke-width="0.22">80</text>
<line x1="216.2" y1="330.3" x2="216.2" y2="333.7" stroke="#111" stroke-width="1.1"/>
<text x="216.2" y="342.4" font-size="6.6" fill="#3a3a3a" text-anchor="middle" stroke="#3a3a3a" stroke-width="0.22">90</text>
<line x1="36.2" y1="283.5" x2="220.6" y2="283.5" stroke="#111" stroke-width="1" stroke-dasharray="3,2"/>
<text x="14.6" y="276.0" font-size="9.2" fill="#a3385c" text-anchor="middle" textLength="101.8" lengthAdjust="spacingAndGlyphs" transform="rotate(-90 14.6 276.0)" stroke="#a3385c" stroke-width="0.2">CLL clones per 1 million WBC</text>
<text x="243.4" y="275.85" font-size="8.7" fill="#4a5676" text-anchor="middle" textLength="118.1" lengthAdjust="spacingAndGlyphs" transform="rotate(90 243.4 275.85)" stroke="#4a5676" stroke-width="0.2">Blood donor CD3 T cell percentage</text>
<text x="128.8" y="354.3" font-size="9.6" fill="#222" text-anchor="middle" textLength="71" lengthAdjust="spacingAndGlyphs" stroke="#222" stroke-width="0.22">Month post allo-HCT</text>
<text x="69.5" y="318.4" font-size="6.4" fill="#454545" text-anchor="start" textLength="29.3" lengthAdjust="spacingAndGlyphs">RELAPSE</text>
<line x1="84.5" y1="319.5" x2="84.5" y2="326.5" stroke="#222" stroke-width="1.3"/>
<path d="M81.90,324.90 L87.10,324.90 L84.50,330.50 Z" fill="#111"/>
<polyline points="37.50,255.00 41.30,220.00 44.50,219.30 50.00,221.30 53.00,218.30 62.50,218.80 72.50,219.30 85.00,221.30 87.50,222.50 91.30,226.30 95.00,243.80 97.50,255.00 98.80,221.30 102.50,220.00 110.00,219.30 118.80,218.30 146.30,218.80 167.50,218.30" fill="none" stroke="#3c5373" stroke-width="1.1" stroke-linejoin="round"/>
<polyline points="187.50,243.80 191.30,225.50 195.50,227.50 210.00,218.30" fill="none" stroke="#3c5373" stroke-width="1.1" stroke-linejoin="round"/>
<circle cx="37.50" cy="255.00" r="1.98" fill="#38465e" stroke="#0d131b" stroke-width="0.95"/>
<circle cx="41.30" cy="220.00" r="1.98" fill="#38465e" stroke="#0d131b" stroke-width="0.95"/>
<circle cx="44.50" cy="219.30" r="1.98" fill="#38465e" stroke="#0d131b" stroke-width="0.95"/>
<circle cx="50.00" cy="221.30" r="1.98" fill="#38465e" stroke="#0d131b" stroke-width="0.95"/>
<circle cx="53.00" cy="218.30" r="1.98" fill="#38465e" stroke="#0d131b" stroke-width="0.95"/>
<circle cx="62.50" cy="218.80" r="1.98" fill="#38465e" stroke="#0d131b" stroke-width="0.95"/>
<circle cx="72.50" cy="219.30" r="1.98" fill="#38465e" stroke="#0d131b" stroke-width="0.95"/>
<circle cx="85.00" cy="221.30" r="1.98" fill="#38465e" stroke="#0d131b" stroke-width="0.95"/>
<circle cx="87.50" cy="222.50" r="1.98" fill="#38465e" stroke="#0d131b" stroke-width="0.95"/>
<circle cx="91.30" cy="226.30" r="1.98" fill="#38465e" stroke="#0d131b" stroke-width="0.95"/>
<circle cx="95.00" cy="243.80" r="1.98" fill="#38465e" stroke="#0d131b" stroke-width="0.95"/>
<circle cx="97.50" cy="255.00" r="1.98" fill="#38465e" stroke="#0d131b" stroke-width="0.95"/>
<circle cx="98.80" cy="221.30" r="1.98" fill="#38465e" stroke="#0d131b" stroke-width="0.95"/>
<circle cx="102.50" cy="220.00" r="1.98" fill="#38465e" stroke="#0d131b" stroke-width="0.95"/>
<circle cx="110.00" cy="219.30" r="1.98" fill="#38465e" stroke="#0d131b" stroke-width="0.95"/>
<circle cx="118.80" cy="218.30" r="1.98" fill="#38465e" stroke="#0d131b" stroke-width="0.95"/>
<circle cx="146.30" cy="218.80" r="1.98" fill="#38465e" stroke="#0d131b" stroke-width="0.95"/>
<circle cx="167.50" cy="218.30" r="1.98" fill="#38465e" stroke="#0d131b" stroke-width="0.95"/>
<circle cx="187.50" cy="243.80" r="1.98" fill="#38465e" stroke="#0d131b" stroke-width="0.95"/>
<circle cx="191.30" cy="225.50" r="1.98" fill="#38465e" stroke="#0d131b" stroke-width="0.95"/>
<circle cx="195.50" cy="227.50" r="1.98" fill="#38465e" stroke="#0d131b" stroke-width="0.95"/>
<circle cx="210.00" cy="218.30" r="1.98" fill="#38465e" stroke="#0d131b" stroke-width="0.95"/>
<polyline points="36.30,226.30 41.30,250.80 47.50,246.30 53.00,253.30 72.00,247.00 84.50,234.50 95.80,232.00 103.50,257.00 108.00,284.30 111.30,303.80 146.30,272.00 150.00,258.00 153.00,283.00 157.50,272.00 161.30,280.50 167.00,276.30 175.00,265.50 181.30,230.00 185.50,227.00 188.00,231.30 191.30,237.50 195.50,243.80 201.30,248.80 208.80,254.50 213.80,258.00" fill="none" stroke="#8e1b3f" stroke-width="1.45" stroke-linejoin="round"/>
<rect x="34.15" y="224.15" width="4.3" height="4.3" fill="#801436" stroke="#4a0a1e" stroke-width="0.6"/>
<rect x="39.15" y="248.65" width="4.3" height="4.3" fill="#801436" stroke="#4a0a1e" stroke-width="0.6"/>
<rect x="45.35" y="244.15" width="4.3" height="4.3" fill="#801436" stroke="#4a0a1e" stroke-width="0.6"/>
<rect x="50.85" y="251.15" width="4.3" height="4.3" fill="#801436" stroke="#4a0a1e" stroke-width="0.6"/>
<rect x="69.85" y="244.85" width="4.3" height="4.3" fill="#801436" stroke="#4a0a1e" stroke-width="0.6"/>
<rect x="82.35" y="232.35" width="4.3" height="4.3" fill="#801436" stroke="#4a0a1e" stroke-width="0.6"/>
<rect x="93.65" y="229.85" width="4.3" height="4.3" fill="#801436" stroke="#4a0a1e" stroke-width="0.6"/>
<rect x="101.35" y="254.85" width="4.3" height="4.3" fill="#801436" stroke="#4a0a1e" stroke-width="0.6"/>
<rect x="105.85" y="282.15" width="4.3" height="4.3" fill="#801436" stroke="#4a0a1e" stroke-width="0.6"/>
<rect x="109.15" y="301.65" width="4.3" height="4.3" fill="#801436" stroke="#4a0a1e" stroke-width="0.6"/>
<rect x="144.15" y="269.85" width="4.3" height="4.3" fill="#801436" stroke="#4a0a1e" stroke-width="0.6"/>
<rect x="147.85" y="255.85" width="4.3" height="4.3" fill="#801436" stroke="#4a0a1e" stroke-width="0.6"/>
<rect x="150.85" y="280.85" width="4.3" height="4.3" fill="#801436" stroke="#4a0a1e" stroke-width="0.6"/>
<rect x="155.35" y="269.85" width="4.3" height="4.3" fill="#801436" stroke="#4a0a1e" stroke-width="0.6"/>
<rect x="159.15" y="278.35" width="4.3" height="4.3" fill="#801436" stroke="#4a0a1e" stroke-width="0.6"/>
<rect x="164.85" y="274.15" width="4.3" height="4.3" fill="#801436" stroke="#4a0a1e" stroke-width="0.6"/>
<rect x="172.85" y="263.35" width="4.3" height="4.3" fill="#801436" stroke="#4a0a1e" stroke-width="0.6"/>
<rect x="179.15" y="227.85" width="4.3" height="4.3" fill="#801436" stroke="#4a0a1e" stroke-width="0.6"/>
<rect x="183.35" y="224.85" width="4.3" height="4.3" fill="#801436" stroke="#4a0a1e" stroke-width="0.6"/>
<rect x="185.85" y="229.15" width="4.3" height="4.3" fill="#801436" stroke="#4a0a1e" stroke-width="0.6"/>
<rect x="189.15" y="235.35" width="4.3" height="4.3" fill="#801436" stroke="#4a0a1e" stroke-width="0.6"/>
<rect x="193.35" y="241.65" width="4.3" height="4.3" fill="#801436" stroke="#4a0a1e" stroke-width="0.6"/>
<rect x="199.15" y="246.65" width="4.3" height="4.3" fill="#801436" stroke="#4a0a1e" stroke-width="0.6"/>
<rect x="206.65" y="252.35" width="4.3" height="4.3" fill="#801436" stroke="#4a0a1e" stroke-width="0.6"/>
<rect x="211.65" y="255.85" width="4.3" height="4.3" fill="#801436" stroke="#4a0a1e" stroke-width="0.6"/>
<text transform="translate(268.8 203.9) scale(0.938 1)" font-size="12.4" font-weight="bold" fill="#111">D</text>
<text x="299.5" y="199.9" font-size="7.8" fill="#d2a85c" text-anchor="start" textLength="70.5" lengthAdjust="spacingAndGlyphs">Dose Escalating DLI</text>
<text x="311" y="212.6" font-size="5.4" fill="#6a98c6" text-anchor="start" textLength="28" lengthAdjust="spacingAndGlyphs">Rituximab</text>
<rect x="341.0" y="208.1" width="4.800000000000011" height="6.900000000000006" rx="0.8" fill="#e4f2fa" stroke="#6a9cc8" stroke-width="0.9"/>
<line x1="351.6" y1="205.4" x2="351.6" y2="211.8" stroke="#d9ad62" stroke-width="0.9"/>
<path d="M349.30,211.30 L353.90,211.30 L351.60,216.30 Z" fill="#e49e22"/>
<line x1="354.7" y1="205.4" x2="354.7" y2="211.8" stroke="#d9ad62" stroke-width="0.9"/>
<path d="M352.40,211.30 L357.00,211.30 L354.70,216.30 Z" fill="#e49e22"/>
<line x1="357.9" y1="205.4" x2="357.9" y2="211.8" stroke="#d9ad62" stroke-width="0.9"/>
<path d="M355.60,211.30 L360.20,211.30 L357.90,216.30 Z" fill="#e49e22"/>
<text x="439.3" y="202.6" font-size="5.6" fill="#86ac6c" text-anchor="middle" textLength="32.2" lengthAdjust="spacingAndGlyphs">IBRUTINIB</text>
<rect x="436.4" y="207.2" width="3.400000000000034" height="8.600000000000023" rx="0.3" fill="#eef4e6" stroke="#94b87c" stroke-width="1"/>
<rect x="440.6" y="207.2" width="9.0" height="8.600000000000023" rx="0.3" fill="#eef4e6" stroke="#94b87c" stroke-width="1"/>
<line x1="297.85" y1="215.2" x2="297.85" y2="316.1" stroke="#111" stroke-width="1.6"/>
<line x1="297.85" y1="322.4" x2="297.85" y2="330.3" stroke="#111" stroke-width="1.6"/>
<line x1="296.55" y1="322.9" x2="299.25" y2="322.9" stroke="#111" stroke-width="1.1"/>
<line x1="294.75" y1="218.3" x2="297.85" y2="218.3" stroke="#111" stroke-width="1.1"/>
<text x="288.75" y="221.10000000000002" font-size="6.6" fill="#785866" text-anchor="end" stroke="#785866" stroke-width="0.18">10</text>
<text x="288.95000000000005" y="218.0" font-size="4.7" fill="#785866" text-anchor="start" stroke="#785866" stroke-width="0.18">6</text>
<line x1="294.75" y1="235.0" x2="297.85" y2="235.0" stroke="#111" stroke-width="1.1"/>
<text x="288.75" y="237.8" font-size="6.6" fill="#785866" text-anchor="end" stroke="#785866" stroke-width="0.18">10</text>
<text x="288.95000000000005" y="234.7" font-size="4.7" fill="#785866" text-anchor="start" stroke="#785866" stroke-width="0.18">5</text>
<line x1="294.75" y1="251.3" x2="297.85" y2="251.3" stroke="#111" stroke-width="1.1"/>
<text x="288.75" y="254.10000000000002" font-size="6.6" fill="#785866" text-anchor="end" stroke="#785866" stroke-width="0.18">10</text>
<text x="288.95000000000005" y="251.0" font-size="4.7" fill="#785866" text-anchor="start" stroke="#785866" stroke-width="0.18">4</text>
<line x1="294.75" y1="267.5" x2="297.85" y2="267.5" stroke="#111" stroke-width="1.1"/>
<text x="288.75" y="270.3" font-size="6.6" fill="#785866" text-anchor="end" stroke="#785866" stroke-width="0.18">10</text>
<text x="288.95000000000005" y="267.2" font-size="4.7" fill="#785866" text-anchor="start" stroke="#785866" stroke-width="0.18">3</text>
<line x1="294.75" y1="283.2" x2="297.85" y2="283.2" stroke="#111" stroke-width="1.1"/>
<text x="288.75" y="286.0" font-size="6.6" fill="#785866" text-anchor="end" stroke="#785866" stroke-width="0.18">10</text>
<text x="288.95000000000005" y="282.9" font-size="4.7" fill="#785866" text-anchor="start" stroke="#785866" stroke-width="0.18">2</text>
<line x1="294.75" y1="299.3" x2="297.85" y2="299.3" stroke="#111" stroke-width="1.1"/>
<text x="291.25" y="302.1" font-size="6.6" fill="#785866" text-anchor="end" stroke="#785866" stroke-width="0.18">10</text>
<line x1="294.75" y1="315.6" x2="299.25" y2="315.6" stroke="#111" stroke-width="1.1"/>
<text x="291.25" y="318.40000000000003" font-size="6.6" fill="#785866" text-anchor="end" stroke="#785866" stroke-width="0.18">1</text>
<line x1="294.75" y1="330.3" x2="297.85" y2="330.3" stroke="#111" stroke-width="1.1"/>
<text x="291.25" y="333.1" font-size="6.6" fill="#785866" text-anchor="end" stroke="#785866" stroke-width="0.18">0</text>
<line x1="482.5" y1="216.0" x2="482.5" y2="330.90000000000003" stroke="#111" stroke-width="1.6"/>
<line x1="482.5" y1="330.3" x2="485.3" y2="330.3" stroke="#111" stroke-width="1.1"/>
<text x="488.3" y="333.0" font-size="7.0" fill="#545a6a" text-anchor="start" stroke="#545a6a" stroke-width="0.18">0</text>
<line x1="482.5" y1="307.96000000000004" x2="485.3" y2="307.96000000000004" stroke="#111" stroke-width="1.1"/>
<text x="488.3" y="310.66" font-size="7.0" fill="#545a6a" text-anchor="start" stroke="#545a6a" stroke-width="0.18">20</text>
<line x1="482.5" y1="285.62" x2="485.3" y2="285.62" stroke="#111" stroke-width="1.1"/>
<text x="488.3" y="288.32" font-size="7.0" fill="#545a6a" text-anchor="start" stroke="#545a6a" stroke-width="0.18">40</text>
<line x1="482.5" y1="263.28" x2="485.3" y2="263.28" stroke="#111" stroke-width="1.1"/>
<text x="488.3" y="265.97999999999996" font-size="7.0" fill="#545a6a" text-anchor="start" stroke="#545a6a" stroke-width="0.18">60</text>
<line x1="482.5" y1="240.94" x2="485.3" y2="240.94" stroke="#111" stroke-width="1.1"/>
<text x="488.3" y="243.64" font-size="7.0" fill="#545a6a" text-anchor="start" stroke="#545a6a" stroke-width="0.18">80</text>
<line x1="482.5" y1="218.6" x2="485.3" y2="218.6" stroke="#111" stroke-width="1.1"/>
<text x="488.3" y="221.29999999999998" font-size="7.0" fill="#545a6a" text-anchor="start" stroke="#545a6a" stroke-width="0.18">100</text>
<line x1="297.85" y1="330.3" x2="482.5" y2="330.3" stroke="#111" stroke-width="1.6"/>
<line x1="298.0" y1="330.3" x2="298.0" y2="333.7" stroke="#111" stroke-width="1.1"/>
<text x="298.0" y="342.4" font-size="6.6" fill="#3a3a3a" text-anchor="middle" stroke="#3a3a3a" stroke-width="0.22">0</text>
<line x1="315.0" y1="330.3" x2="315.0" y2="333.7" stroke="#111" stroke-width="1.1"/>
<text x="315.0" y="342.4" font-size="6.6" fill="#3a3a3a" text-anchor="middle" stroke="#3a3a3a" stroke-width="0.22">10</text>
<line x1="332.0" y1="330.3" x2="332.0" y2="333.7" stroke="#111" stroke-width="1.1"/>
<text x="332.0" y="342.4" font-size="6.6" fill="#3a3a3a" text-anchor="middle" stroke="#3a3a3a" stroke-width="0.22">20</text>
<line x1="349.0" y1="330.3" x2="349.0" y2="333.7" stroke="#111" stroke-width="1.1"/>
<text x="349.0" y="342.4" font-size="6.6" fill="#3a3a3a" text-anchor="middle" stroke="#3a3a3a" stroke-width="0.22">30</text>
<line x1="366.0" y1="330.3" x2="366.0" y2="333.7" stroke="#111" stroke-width="1.1"/>
<text x="366.0" y="342.4" font-size="6.6" fill="#3a3a3a" text-anchor="middle" stroke="#3a3a3a" stroke-width="0.22">40</text>
<line x1="383.0" y1="330.3" x2="383.0" y2="333.7" stroke="#111" stroke-width="1.1"/>
<text x="383.0" y="342.4" font-size="6.6" fill="#3a3a3a" text-anchor="middle" stroke="#3a3a3a" stroke-width="0.22">50</text>
<line x1="400.0" y1="330.3" x2="400.0" y2="333.7" stroke="#111" stroke-width="1.1"/>
<text x="400.0" y="342.4" font-size="6.6" fill="#3a3a3a" text-anchor="middle" stroke="#3a3a3a" stroke-width="0.22">60</text>
<line x1="417.0" y1="330.3" x2="417.0" y2="333.7" stroke="#111" stroke-width="1.1"/>
<text x="417.0" y="342.4" font-size="6.6" fill="#3a3a3a" text-anchor="middle" stroke="#3a3a3a" stroke-width="0.22">70</text>
<line x1="434.0" y1="330.3" x2="434.0" y2="333.7" stroke="#111" stroke-width="1.1"/>
<text x="434.0" y="342.4" font-size="6.6" fill="#3a3a3a" text-anchor="middle" stroke="#3a3a3a" stroke-width="0.22">80</text>
<line x1="451.0" y1="330.3" x2="451.0" y2="333.7" stroke="#111" stroke-width="1.1"/>
<text x="451.0" y="342.4" font-size="6.6" fill="#3a3a3a" text-anchor="middle" stroke="#3a3a3a" stroke-width="0.22">90</text>
<line x1="468.0" y1="330.3" x2="468.0" y2="333.7" stroke="#111" stroke-width="1.1"/>
<text x="468.0" y="342.4" font-size="6.6" fill="#3a3a3a" text-anchor="middle" stroke="#3a3a3a" stroke-width="0.22">100</text>
<line x1="297.85" y1="283.5" x2="482.5" y2="283.5" stroke="#111" stroke-width="1" stroke-dasharray="3,2"/>
<text x="275.9" y="274.8" font-size="9.2" fill="#a3385c" text-anchor="middle" textLength="102" lengthAdjust="spacingAndGlyphs" transform="rotate(-90 275.9 274.8)" stroke="#a3385c" stroke-width="0.2">CLL clones per 1 million WBC</text>
<text x="505.5" y="274.6" font-size="8.7" fill="#4a5676" text-anchor="middle" textLength="118.3" lengthAdjust="spacingAndGlyphs" transform="rotate(90 505.5 274.6)" stroke="#4a5676" stroke-width="0.2">Blood donor CD3 T cell percentage</text>
<text x="390.4" y="354.2" font-size="9.6" fill="#222" text-anchor="middle" textLength="71" lengthAdjust="spacingAndGlyphs" stroke="#222" stroke-width="0.22">Month post allo-HCT</text>
<text x="420.5" y="318.4" font-size="6.4" fill="#454545" text-anchor="start" textLength="30" lengthAdjust="spacingAndGlyphs">RELAPSE</text>
<line x1="435" y1="319.5" x2="435" y2="326.5" stroke="#222" stroke-width="1.3"/>
<path d="M432.40,324.90 L437.60,324.90 L435.00,330.50 Z" fill="#111"/>
<polyline points="298.80,236.30 300.50,232.50 302.50,228.80 306.30,223.00 310.00,221.30 313.80,220.00 317.50,223.80 321.30,220.50 325.00,221.30 328.80,222.50 333.80,223.00 338.80,220.00 342.50,222.50 346.30,219.50 350.00,225.00 353.00,223.80 356.30,223.00 360.00,223.00 365.00,221.30 374.50,219.50 385.00,222.00 404.50,220.50 425.00,226.30 435.00,227.00 440.00,226.30 443.80,220.50 447.50,222.50 453.00,221.30 464.50,223.80" fill="none" stroke="#3c5373" stroke-width="1.1" stroke-linejoin="round"/>
<circle cx="298.80" cy="236.30" r="1.98" fill="#38465e" stroke="#0d131b" stroke-width="0.95"/>
<circle cx="300.50" cy="232.50" r="1.98" fill="#38465e" stroke="#0d131b" stroke-width="0.95"/>
<circle cx="302.50" cy="228.80" r="1.98" fill="#38465e" stroke="#0d131b" stroke-width="0.95"/>
<circle cx="306.30" cy="223.00" r="1.98" fill="#38465e" stroke="#0d131b" stroke-width="0.95"/>
<circle cx="310.00" cy="221.30" r="1.98" fill="#38465e" stroke="#0d131b" stroke-width="0.95"/>
<circle cx="313.80" cy="220.00" r="1.98" fill="#38465e" stroke="#0d131b" stroke-width="0.95"/>
<circle cx="317.50" cy="223.80" r="1.98" fill="#38465e" stroke="#0d131b" stroke-width="0.95"/>
<circle cx="321.30" cy="220.50" r="1.98" fill="#38465e" stroke="#0d131b" stroke-width="0.95"/>
<circle cx="325.00" cy="221.30" r="1.98" fill="#38465e" stroke="#0d131b" stroke-width="0.95"/>
<circle cx="328.80" cy="222.50" r="1.98" fill="#38465e" stroke="#0d131b" stroke-width="0.95"/>
<circle cx="333.80" cy="223.00" r="1.98" fill="#38465e" stroke="#0d131b" stroke-width="0.95"/>
<circle cx="338.80" cy="220.00" r="1.98" fill="#38465e" stroke="#0d131b" stroke-width="0.95"/>
<circle cx="342.50" cy="222.50" r="1.98" fill="#38465e" stroke="#0d131b" stroke-width="0.95"/>
<circle cx="346.30" cy="219.50" r="1.98" fill="#38465e" stroke="#0d131b" stroke-width="0.95"/>
<circle cx="350.00" cy="225.00" r="1.98" fill="#38465e" stroke="#0d131b" stroke-width="0.95"/>
<circle cx="353.00" cy="223.80" r="1.98" fill="#38465e" stroke="#0d131b" stroke-width="0.95"/>
<circle cx="356.30" cy="223.00" r="1.98" fill="#38465e" stroke="#0d131b" stroke-width="0.95"/>
<circle cx="360.00" cy="223.00" r="1.98" fill="#38465e" stroke="#0d131b" stroke-width="0.95"/>
<circle cx="365.00" cy="221.30" r="1.98" fill="#38465e" stroke="#0d131b" stroke-width="0.95"/>
<circle cx="374.50" cy="219.50" r="1.98" fill="#38465e" stroke="#0d131b" stroke-width="0.95"/>
<circle cx="385.00" cy="222.00" r="1.98" fill="#38465e" stroke="#0d131b" stroke-width="0.95"/>
<circle cx="404.50" cy="220.50" r="1.98" fill="#38465e" stroke="#0d131b" stroke-width="0.95"/>
<circle cx="425.00" cy="226.30" r="1.98" fill="#38465e" stroke="#0d131b" stroke-width="0.95"/>
<circle cx="435.00" cy="227.00" r="1.98" fill="#38465e" stroke="#0d131b" stroke-width="0.95"/>
<circle cx="440.00" cy="226.30" r="1.98" fill="#38465e" stroke="#0d131b" stroke-width="0.95"/>
<circle cx="443.80" cy="220.50" r="1.98" fill="#38465e" stroke="#0d131b" stroke-width="0.95"/>
<circle cx="447.50" cy="222.50" r="1.98" fill="#38465e" stroke="#0d131b" stroke-width="0.95"/>
<circle cx="453.00" cy="221.30" r="1.98" fill="#38465e" stroke="#0d131b" stroke-width="0.95"/>
<circle cx="464.50" cy="223.80" r="1.98" fill="#38465e" stroke="#0d131b" stroke-width="0.95"/>
<polyline points="297.60,237.50 300.00,234.50 303.00,227.50 307.50,239.30 312.50,250.00 318.00,250.80 328.00,245.50 338.80,236.30 348.00,235.50 358.80,247.00 369.30,262.50 379.50,260.00 389.50,257.50 414.50,243.30 425.50,242.50 435.00,241.30 440.00,240.50 444.30,244.50 447.50,259.50 453.30,270.50 458.30,277.00 464.30,282.00 475.00,283.30" fill="none" stroke="#8e1b3f" stroke-width="1.45" stroke-linejoin="round"/>
<rect x="295.45" y="235.35" width="4.3" height="4.3" fill="#801436" stroke="#4a0a1e" stroke-width="0.6"/>
<rect x="297.85" y="232.35" width="4.3" height="4.3" fill="#801436" stroke="#4a0a1e" stroke-width="0.6"/>
<rect x="300.85" y="225.35" width="4.3" height="4.3" fill="#801436" stroke="#4a0a1e" stroke-width="0.6"/>
<rect x="305.35" y="237.15" width="4.3" height="4.3" fill="#801436" stroke="#4a0a1e" stroke-width="0.6"/>
<rect x="310.35" y="247.85" width="4.3" height="4.3" fill="#801436" stroke="#4a0a1e" stroke-width="0.6"/>
<rect x="315.85" y="248.65" width="4.3" height="4.3" fill="#801436" stroke="#4a0a1e" stroke-width="0.6"/>
<rect x="325.85" y="243.35" width="4.3" height="4.3" fill="#801436" stroke="#4a0a1e" stroke-width="0.6"/>
<rect x="336.65" y="234.15" width="4.3" height="4.3" fill="#801436" stroke="#4a0a1e" stroke-width="0.6"/>
<rect x="345.85" y="233.35" width="4.3" height="4.3" fill="#801436" stroke="#4a0a1e" stroke-width="0.6"/>
<rect x="356.65" y="244.85" width="4.3" height="4.3" fill="#801436" stroke="#4a0a1e" stroke-width="0.6"/>
<rect x="367.15" y="260.35" width="4.3" height="4.3" fill="#801436" stroke="#4a0a1e" stroke-width="0.6"/>
<rect x="377.35" y="257.85" width="4.3" height="4.3" fill="#801436" stroke="#4a0a1e" stroke-width="0.6"/>
<rect x="387.35" y="255.35" width="4.3" height="4.3" fill="#801436" stroke="#4a0a1e" stroke-width="0.6"/>
<rect x="412.35" y="241.15" width="4.3" height="4.3" fill="#801436" stroke="#4a0a1e" stroke-width="0.6"/>
<rect x="423.35" y="240.35" width="4.3" height="4.3" fill="#801436" stroke="#4a0a1e" stroke-width="0.6"/>
<rect x="432.85" y="239.15" width="4.3" height="4.3" fill="#801436" stroke="#4a0a1e" stroke-width="0.6"/>
<rect x="437.85" y="238.35" width="4.3" height="4.3" fill="#801436" stroke="#4a0a1e" stroke-width="0.6"/>
<rect x="442.15" y="242.35" width="4.3" height="4.3" fill="#801436" stroke="#4a0a1e" stroke-width="0.6"/>
<rect x="445.35" y="257.35" width="4.3" height="4.3" fill="#801436" stroke="#4a0a1e" stroke-width="0.6"/>
<rect x="451.15" y="268.35" width="4.3" height="4.3" fill="#801436" stroke="#4a0a1e" stroke-width="0.6"/>
<rect x="456.15" y="274.85" width="4.3" height="4.3" fill="#801436" stroke="#4a0a1e" stroke-width="0.6"/>
<rect x="462.15" y="279.85" width="4.3" height="4.3" fill="#801436" stroke="#4a0a1e" stroke-width="0.6"/>
<rect x="472.85" y="281.15" width="4.3" height="4.3" fill="#801436" stroke="#4a0a1e" stroke-width="0.6"/>
<text transform="translate(7.1 382.8) scale(0.895 1)" font-size="12.4" font-weight="bold" fill="#111">E</text>
<text x="40.4" y="378.0" font-size="6.8" fill="#d4a858" text-anchor="start" textLength="58.5" lengthAdjust="spacingAndGlyphs">Dose Escalating DLI</text>
<line x1="69.3" y1="380.8" x2="69.3" y2="387.9" stroke="#d9ad62" stroke-width="0.9"/>
<path d="M66.70,387.40 L71.90,387.40 L69.30,392.90 Z" fill="#e49e22"/>
<line x1="71.6" y1="380.8" x2="71.6" y2="387.9" stroke="#d9ad62" stroke-width="0.9"/>
<path d="M69.00,387.40 L74.20,387.40 L71.60,392.90 Z" fill="#e49e22"/>
<line x1="74.0" y1="380.8" x2="74.0" y2="387.9" stroke="#d9ad62" stroke-width="0.9"/>
<path d="M71.40,387.40 L76.60,387.40 L74.00,392.90 Z" fill="#e49e22"/>
<text x="40.7" y="399.8" font-size="6.6" fill="#6a98c6" text-anchor="start" textLength="29" lengthAdjust="spacingAndGlyphs">Rituximab</text>
<rect x="72.4" y="394.3" width="3.1999999999999886" height="6.699999999999989" rx="0.8" fill="#e4f2fa" stroke="#6a9cc8" stroke-width="0.9"/>
<rect x="157.5" y="381.3" width="65.0" height="10.0" rx="1.5" fill="#eef4e6" stroke="#94b87c" stroke-width="1"/>
<text x="190" y="388.9" font-size="6.6" fill="#879a78" text-anchor="middle" textLength="31.8" lengthAdjust="spacingAndGlyphs">IBRUTINIB</text>
<line x1="36.0" y1="392.2" x2="36.0" y2="493.0" stroke="#111" stroke-width="1.6"/>
<line x1="36.0" y1="499.7" x2="36.0" y2="507.3" stroke="#111" stroke-width="1.6"/>
<line x1="34.7" y1="500.2" x2="37.4" y2="500.2" stroke="#111" stroke-width="1.1"/>
<line x1="32.9" y1="395.6" x2="36.0" y2="395.6" stroke="#111" stroke-width="1.1"/>
<text x="26.9" y="398.40000000000003" font-size="6.6" fill="#785866" text-anchor="end" stroke="#785866" stroke-width="0.18">10</text>
<text x="27.1" y="395.3" font-size="4.7" fill="#785866" text-anchor="start" stroke="#785866" stroke-width="0.18">6</text>
<line x1="32.9" y1="411.6" x2="36.0" y2="411.6" stroke="#111" stroke-width="1.1"/>
<text x="26.9" y="414.40000000000003" font-size="6.6" fill="#785866" text-anchor="end" stroke="#785866" stroke-width="0.18">10</text>
<text x="27.1" y="411.3" font-size="4.7" fill="#785866" text-anchor="start" stroke="#785866" stroke-width="0.18">5</text>
<line x1="32.9" y1="428.0" x2="36.0" y2="428.0" stroke="#111" stroke-width="1.1"/>
<text x="26.9" y="430.8" font-size="6.6" fill="#785866" text-anchor="end" stroke="#785866" stroke-width="0.18">10</text>
<text x="27.1" y="427.7" font-size="4.7" fill="#785866" text-anchor="start" stroke="#785866" stroke-width="0.18">4</text>
<line x1="32.9" y1="444.2" x2="36.0" y2="444.2" stroke="#111" stroke-width="1.1"/>
<text x="26.9" y="447.0" font-size="6.6" fill="#785866" text-anchor="end" stroke="#785866" stroke-width="0.18">10</text>
<text x="27.1" y="443.9" font-size="4.7" fill="#785866" text-anchor="start" stroke="#785866" stroke-width="0.18">3</text>
<line x1="32.9" y1="460.2" x2="36.0" y2="460.2" stroke="#111" stroke-width="1.1"/>
<text x="26.9" y="463.0" font-size="6.6" fill="#785866" text-anchor="end" stroke="#785866" stroke-width="0.18">10</text>
<text x="27.1" y="459.9" font-size="4.7" fill="#785866" text-anchor="start" stroke="#785866" stroke-width="0.18">2</text>
<line x1="32.9" y1="476.3" x2="36.0" y2="476.3" stroke="#111" stroke-width="1.1"/>
<text x="29.4" y="479.1" font-size="6.6" fill="#785866" text-anchor="end" stroke="#785866" stroke-width="0.18">10</text>
<line x1="32.9" y1="492.5" x2="37.4" y2="492.5" stroke="#111" stroke-width="1.1"/>
<text x="29.4" y="495.3" font-size="6.6" fill="#785866" text-anchor="end" stroke="#785866" stroke-width="0.18">1</text>
<line x1="32.9" y1="507.3" x2="36.0" y2="507.3" stroke="#111" stroke-width="1.1"/>
<text x="29.4" y="510.1" font-size="6.6" fill="#785866" text-anchor="end" stroke="#785866" stroke-width="0.18">0</text>
<line x1="220.4" y1="393.0" x2="220.4" y2="507.90000000000003" stroke="#111" stroke-width="1.6"/>
<line x1="220.4" y1="507.3" x2="223.20000000000002" y2="507.3" stroke="#111" stroke-width="1.1"/>
<text x="227.3" y="510.0" font-size="7.8" fill="#545a6a" text-anchor="start" stroke="#545a6a" stroke-width="0.18">0</text>
<line x1="220.4" y1="484.96000000000004" x2="223.20000000000002" y2="484.96000000000004" stroke="#111" stroke-width="1.1"/>
<text x="227.3" y="487.66" font-size="7.8" fill="#545a6a" text-anchor="start" stroke="#545a6a" stroke-width="0.18">20</text>
<line x1="220.4" y1="462.62" x2="223.20000000000002" y2="462.62" stroke="#111" stroke-width="1.1"/>
<text x="227.3" y="465.32" font-size="7.8" fill="#545a6a" text-anchor="start" stroke="#545a6a" stroke-width="0.18">40</text>
<line x1="220.4" y1="440.28000000000003" x2="223.20000000000002" y2="440.28000000000003" stroke="#111" stroke-width="1.1"/>
<text x="227.3" y="442.98" font-size="7.8" fill="#545a6a" text-anchor="start" stroke="#545a6a" stroke-width="0.18">60</text>
<line x1="220.4" y1="417.94" x2="223.20000000000002" y2="417.94" stroke="#111" stroke-width="1.1"/>
<text x="227.3" y="420.64" font-size="7.8" fill="#545a6a" text-anchor="start" stroke="#545a6a" stroke-width="0.18">80</text>
<line x1="220.4" y1="395.6" x2="223.20000000000002" y2="395.6" stroke="#111" stroke-width="1.1"/>
<text x="227.3" y="398.3" font-size="7.8" fill="#545a6a" text-anchor="start" stroke="#545a6a" stroke-width="0.18">100</text>
<line x1="36.0" y1="507.3" x2="133.0" y2="507.3" stroke="#111" stroke-width="1.2"/>
<line x1="140.4" y1="507.3" x2="220.4" y2="507.3" stroke="#111" stroke-width="1.2"/>
<line x1="133.0" y1="505.6" x2="133.0" y2="510.0" stroke="#111" stroke-width="1"/>
<line x1="140.4" y1="505.6" x2="140.4" y2="510.0" stroke="#111" stroke-width="1"/>
<line x1="36.3" y1="507.3" x2="36.3" y2="510.7" stroke="#111" stroke-width="1.1"/>
<text x="36.3" y="519.8" font-size="6.6" fill="#3a3a3a" text-anchor="middle" stroke="#3a3a3a" stroke-width="0.22">0</text>
<line x1="47.699999999999996" y1="507.3" x2="47.699999999999996" y2="510.7" stroke="#111" stroke-width="1.1"/>
<text x="47.699999999999996" y="519.8" font-size="6.6" fill="#3a3a3a" text-anchor="middle" stroke="#3a3a3a" stroke-width="0.22">10</text>
<line x1="59.099999999999994" y1="507.3" x2="59.099999999999994" y2="510.7" stroke="#111" stroke-width="1.1"/>
<text x="59.099999999999994" y="519.8" font-size="6.6" fill="#3a3a3a" text-anchor="middle" stroke="#3a3a3a" stroke-width="0.22">20</text>
<line x1="70.5" y1="507.3" x2="70.5" y2="510.7" stroke="#111" stroke-width="1.1"/>
<text x="70.5" y="519.8" font-size="6.6" fill="#3a3a3a" text-anchor="middle" stroke="#3a3a3a" stroke-width="0.22">30</text>
<line x1="81.89999999999999" y1="507.3" x2="81.89999999999999" y2="510.7" stroke="#111" stroke-width="1.1"/>
<text x="81.89999999999999" y="519.8" font-size="6.6" fill="#3a3a3a" text-anchor="middle" stroke="#3a3a3a" stroke-width="0.22">40</text>
<line x1="93.29999999999998" y1="507.3" x2="93.29999999999998" y2="510.7" stroke="#111" stroke-width="1.1"/>
<text x="93.29999999999998" y="519.8" font-size="6.6" fill="#3a3a3a" text-anchor="middle" stroke="#3a3a3a" stroke-width="0.22">50</text>
<line x1="104.69999999999999" y1="507.3" x2="104.69999999999999" y2="510.7" stroke="#111" stroke-width="1.1"/>
<text x="104.69999999999999" y="519.8" font-size="6.6" fill="#3a3a3a" text-anchor="middle" stroke="#3a3a3a" stroke-width="0.22">60</text>
<line x1="116.1" y1="507.3" x2="116.1" y2="510.7" stroke="#111" stroke-width="1.1"/>
<text x="116.1" y="519.8" font-size="6.6" fill="#3a3a3a" text-anchor="middle" stroke="#3a3a3a" stroke-width="0.22">70</text>
<line x1="127.49999999999999" y1="507.3" x2="127.49999999999999" y2="510.7" stroke="#111" stroke-width="1.1"/>
<text x="127.49999999999999" y="519.8" font-size="6.6" fill="#3a3a3a" text-anchor="middle" stroke="#3a3a3a" stroke-width="0.22">80</text>
<line x1="139.8" y1="507.3" x2="139.8" y2="510.7" stroke="#111" stroke-width="1.1"/>
<text x="139.8" y="519.8" font-size="6.6" fill="#3a3a3a" text-anchor="middle" stroke="#3a3a3a" stroke-width="0.22">85</text>
<line x1="165.73000000000002" y1="507.3" x2="165.73000000000002" y2="510.7" stroke="#111" stroke-width="1.1"/>
<text x="165.73000000000002" y="519.8" font-size="6.6" fill="#3a3a3a" text-anchor="middle" stroke="#3a3a3a" stroke-width="0.22">95</text>
<line x1="191.66000000000003" y1="507.3" x2="191.66000000000003" y2="510.7" stroke="#111" stroke-width="1.1"/>
<text x="191.66000000000003" y="519.8" font-size="6.6" fill="#3a3a3a" text-anchor="middle" stroke="#3a3a3a" stroke-width="0.22">105</text>
<line x1="217.59" y1="507.3" x2="217.59" y2="510.7" stroke="#111" stroke-width="1.1"/>
<text x="217.59" y="519.8" font-size="6.6" fill="#3a3a3a" text-anchor="middle" stroke="#3a3a3a" stroke-width="0.22">115</text>
<line x1="36.0" y1="460.5" x2="220.4" y2="460.5" stroke="#111" stroke-width="1" stroke-dasharray="3,2"/>
<text x="14.9" y="451.3" font-size="9.2" fill="#a3385c" text-anchor="middle" textLength="101.8" lengthAdjust="spacingAndGlyphs" transform="rotate(-90 14.9 451.3)" stroke="#a3385c" stroke-width="0.2">CLL clones per 1 million WBC</text>
<text x="244.4" y="451.0" font-size="8.7" fill="#4a5676" text-anchor="middle" textLength="118.0" lengthAdjust="spacingAndGlyphs" transform="rotate(90 244.4 451.0)" stroke="#4a5676" stroke-width="0.2">Blood donor CD3 T cell percentage</text>
<text x="129.0" y="531.8" font-size="9.6" fill="#222" text-anchor="middle" textLength="71" lengthAdjust="spacingAndGlyphs" stroke="#222" stroke-width="0.22">Month post allo-HCT</text>
<text x="137" y="495.4" font-size="6.4" fill="#454545" text-anchor="start" textLength="29.2" lengthAdjust="spacingAndGlyphs">RELAPSE</text>
<line x1="151.4" y1="496.5" x2="151.4" y2="503.5" stroke="#222" stroke-width="1.3"/>
<path d="M148.80,501.90 L154.00,501.90 L151.40,507.50 Z" fill="#111"/>
<polyline points="38.10,435.90 39.70,439.60 43.40,454.40 45.00,459.70 46.60,448.10 53.10,438.90 63.50,442.80 69.70,451.10 71.10,442.40 73.40,448.80 75.70,437.70 77.30,435.40 78.00,425.70 79.70,405.40 81.30,400.30 84.30,398.90 87.70,398.50 91.90,396.60 95.80,397.60 124.20,397.30 133.50,409.60" fill="none" stroke="#3c5373" stroke-width="1.1" stroke-linejoin="round"/>
<polyline points="139.60,417.70 148.10,429.00 156.60,421.10 159.70,415.80 161.30,411.20 164.30,403.10 167.30,402.40 172.80,399.60 178.10,398.00 190.80,398.00 198.90,398.90 204.70,398.50" fill="none" stroke="#3c5373" stroke-width="1.1" stroke-linejoin="round"/>
<circle cx="38.10" cy="435.90" r="1.98" fill="#38465e" stroke="#0d131b" stroke-width="0.95"/>
<circle cx="39.70" cy="439.60" r="1.98" fill="#38465e" stroke="#0d131b" stroke-width="0.95"/>
<circle cx="43.40" cy="454.40" r="1.98" fill="#38465e" stroke="#0d131b" stroke-width="0.95"/>
<circle cx="45.00" cy="459.70" r="1.98" fill="#38465e" stroke="#0d131b" stroke-width="0.95"/>
<circle cx="46.60" cy="448.10" r="1.98" fill="#38465e" stroke="#0d131b" stroke-width="0.95"/>
<circle cx="53.10" cy="438.90" r="1.98" fill="#38465e" stroke="#0d131b" stroke-width="0.95"/>
<circle cx="63.50" cy="442.80" r="1.98" fill="#38465e" stroke="#0d131b" stroke-width="0.95"/>
<circle cx="69.70" cy="451.10" r="1.98" fill="#38465e" stroke="#0d131b" stroke-width="0.95"/>
<circle cx="71.10" cy="442.40" r="1.98" fill="#38465e" stroke="#0d131b" stroke-width="0.95"/>
<circle cx="73.40" cy="448.80" r="1.98" fill="#38465e" stroke="#0d131b" stroke-width="0.95"/>
<circle cx="75.70" cy="437.70" r="1.98" fill="#38465e" stroke="#0d131b" stroke-width="0.95"/>
<circle cx="77.30" cy="435.40" r="1.98" fill="#38465e" stroke="#0d131b" stroke-width="0.95"/>
<circle cx="78.00" cy="425.70" r="1.98" fill="#38465e" stroke="#0d131b" stroke-width="0.95"/>
<circle cx="79.70" cy="405.40" r="1.98" fill="#38465e" stroke="#0d131b" stroke-width="0.95"/>
<circle cx="81.30" cy="400.30" r="1.98" fill="#38465e" stroke="#0d131b" stroke-width="0.95"/>
<circle cx="84.30" cy="398.90" r="1.98" fill="#38465e" stroke="#0d131b" stroke-width="0.95"/>
<circle cx="87.70" cy="398.50" r="1.98" fill="#38465e" stroke="#0d131b" stroke-width="0.95"/>
<circle cx="91.90" cy="396.60" r="1.98" fill="#38465e" stroke="#0d131b" stroke-width="0.95"/>
<circle cx="95.80" cy="397.60" r="1.98" fill="#38465e" stroke="#0d131b" stroke-width="0.95"/>
<circle cx="124.20" cy="397.30" r="1.98" fill="#38465e" stroke="#0d131b" stroke-width="0.95"/>
<circle cx="148.10" cy="429.00" r="1.98" fill="#38465e" stroke="#0d131b" stroke-width="0.95"/>
<circle cx="156.60" cy="421.10" r="1.98" fill="#38465e" stroke="#0d131b" stroke-width="0.95"/>
<circle cx="159.70" cy="415.80" r="1.98" fill="#38465e" stroke="#0d131b" stroke-width="0.95"/>
<circle cx="161.30" cy="411.20" r="1.98" fill="#38465e" stroke="#0d131b" stroke-width="0.95"/>
<circle cx="164.30" cy="403.10" r="1.98" fill="#38465e" stroke="#0d131b" stroke-width="0.95"/>
<circle cx="167.30" cy="402.40" r="1.98" fill="#38465e" stroke="#0d131b" stroke-width="0.95"/>
<circle cx="172.80" cy="399.60" r="1.98" fill="#38465e" stroke="#0d131b" stroke-width="0.95"/>
<circle cx="178.10" cy="398.00" r="1.98" fill="#38465e" stroke="#0d131b" stroke-width="0.95"/>
<circle cx="190.80" cy="398.00" r="1.98" fill="#38465e" stroke="#0d131b" stroke-width="0.95"/>
<circle cx="198.90" cy="398.90" r="1.98" fill="#38465e" stroke="#0d131b" stroke-width="0.95"/>
<circle cx="204.70" cy="398.50" r="1.98" fill="#38465e" stroke="#0d131b" stroke-width="0.95"/>
<polyline points="36.50,437.30 37.40,440.50 39.20,474.70 42.70,472.40 46.60,465.00 49.60,451.60 56.60,439.60 63.50,422.70 70.40,422.70 77.30,430.80 133.00,416.20" fill="none" stroke="#8e1b3f" stroke-width="1.45" stroke-linejoin="round"/>
<polyline points="139.80,414.90 146.50,413.50 156.20,411.90 159.00,411.20 160.80,412.30 164.30,412.30 167.30,418.10 172.80,417.40 178.80,421.60 183.40,422.70 191.30,438.90 198.90,442.80 204.70,448.80 208.80,442.80 212.70,455.70" fill="none" stroke="#8e1b3f" stroke-width="1.45" stroke-linejoin="round"/>
<rect x="34.35" y="435.15" width="4.3" height="4.3" fill="#801436" stroke="#4a0a1e" stroke-width="0.6"/>
<rect x="35.25" y="438.35" width="4.3" height="4.3" fill="#801436" stroke="#4a0a1e" stroke-width="0.6"/>
<rect x="37.05" y="472.55" width="4.3" height="4.3" fill="#801436" stroke="#4a0a1e" stroke-width="0.6"/>
<rect x="40.55" y="470.25" width="4.3" height="4.3" fill="#801436" stroke="#4a0a1e" stroke-width="0.6"/>
<rect x="44.45" y="462.85" width="4.3" height="4.3" fill="#801436" stroke="#4a0a1e" stroke-width="0.6"/>
<rect x="47.45" y="449.45" width="4.3" height="4.3" fill="#801436" stroke="#4a0a1e" stroke-width="0.6"/>
<rect x="54.45" y="437.45" width="4.3" height="4.3" fill="#801436" stroke="#4a0a1e" stroke-width="0.6"/>
<rect x="61.35" y="420.55" width="4.3" height="4.3" fill="#801436" stroke="#4a0a1e" stroke-width="0.6"/>
<rect x="68.25" y="420.55" width="4.3" height="4.3" fill="#801436" stroke="#4a0a1e" stroke-width="0.6"/>
<rect x="75.15" y="428.65" width="4.3" height="4.3" fill="#801436" stroke="#4a0a1e" stroke-width="0.6"/>
<rect x="144.35" y="411.35" width="4.3" height="4.3" fill="#801436" stroke="#4a0a1e" stroke-width="0.6"/>
<rect x="154.05" y="409.75" width="4.3" height="4.3" fill="#801436" stroke="#4a0a1e" stroke-width="0.6"/>
<rect x="156.85" y="409.05" width="4.3" height="4.3" fill="#801436" stroke="#4a0a1e" stroke-width="0.6"/>
<rect x="158.65" y="410.15" width="4.3" height="4.3" fill="#801436" stroke="#4a0a1e" stroke-width="0.6"/>
<rect x="162.15" y="410.15" width="4.3" height="4.3" fill="#801436" stroke="#4a0a1e" stroke-width="0.6"/>
<rect x="165.15" y="415.95" width="4.3" height="4.3" fill="#801436" stroke="#4a0a1e" stroke-width="0.6"/>
<rect x="170.65" y="415.25" width="4.3" height="4.3" fill="#801436" stroke="#4a0a1e" stroke-width="0.6"/>
<rect x="176.65" y="419.45" width="4.3" height="4.3" fill="#801436" stroke="#4a0a1e" stroke-width="0.6"/>
<rect x="181.25" y="420.55" width="4.3" height="4.3" fill="#801436" stroke="#4a0a1e" stroke-width="0.6"/>
<rect x="189.15" y="436.75" width="4.3" height="4.3" fill="#801436" stroke="#4a0a1e" stroke-width="0.6"/>
<rect x="196.75" y="440.65" width="4.3" height="4.3" fill="#801436" stroke="#4a0a1e" stroke-width="0.6"/>
<rect x="202.55" y="446.65" width="4.3" height="4.3" fill="#801436" stroke="#4a0a1e" stroke-width="0.6"/>
<rect x="206.65" y="440.65" width="4.3" height="4.3" fill="#801436" stroke="#4a0a1e" stroke-width="0.6"/>
<rect x="210.55" y="453.55" width="4.3" height="4.3" fill="#801436" stroke="#4a0a1e" stroke-width="0.6"/>
<text transform="translate(268.8 382.6) scale(0.977 1)" font-size="12.4" font-weight="bold" fill="#111">F</text>
<text x="350.7" y="381.5" font-size="6.0" fill="#d0a962" text-anchor="start" textLength="8.7" lengthAdjust="spacingAndGlyphs" stroke="#d0a962" stroke-width="0.15">DLI</text>
<line x1="360.5" y1="382" x2="360.5" y2="389.5" stroke="#d9ad62" stroke-width="0.9"/>
<path d="M357.90,389.00 L363.10,389.00 L360.50,394.00 Z" fill="#e49e22"/>
<text x="320" y="391.4" font-size="5.4" fill="#6a98c6" text-anchor="start" textLength="28.7" lengthAdjust="spacingAndGlyphs">Rituximab</text>
<rect x="351.3" y="386.3" width="4.199999999999989" height="6.699999999999989" rx="0.8" fill="#e4f2fa" stroke="#6a9cc8" stroke-width="0.9"/>
<rect x="363.8" y="373.6" width="117.80000000000001" height="9.0" rx="2" fill="#ece4f6" stroke="#5a4a7a" stroke-width="1.1"/>
<text x="422.5" y="380.4" font-size="6.4" fill="#5a5a5a" text-anchor="middle">cGVHD</text>
<text x="459.8" y="389.6" font-size="5.6" fill="#96bb80" text-anchor="start" textLength="32" lengthAdjust="spacingAndGlyphs">IBRUTINIB</text>
<rect x="469.6" y="383.2" width="11.699999999999989" height="9.300000000000011" rx="0.8" fill="none" stroke="#94b87c" stroke-width="1"/>
<line x1="297.85" y1="392.2" x2="297.85" y2="493.0" stroke="#111" stroke-width="1.6"/>
<line x1="297.85" y1="499.7" x2="297.85" y2="507.3" stroke="#111" stroke-width="1.6"/>
<line x1="296.55" y1="500.2" x2="299.25" y2="500.2" stroke="#111" stroke-width="1.1"/>
<line x1="294.75" y1="395.6" x2="297.85" y2="395.6" stroke="#111" stroke-width="1.1"/>
<text x="288.75" y="398.40000000000003" font-size="6.6" fill="#785866" text-anchor="end" stroke="#785866" stroke-width="0.18">10</text>
<text x="288.95000000000005" y="395.3" font-size="4.7" fill="#785866" text-anchor="start" stroke="#785866" stroke-width="0.18">6</text>
<line x1="294.75" y1="411.6" x2="297.85" y2="411.6" stroke="#111" stroke-width="1.1"/>
<text x="288.75" y="414.40000000000003" font-size="6.6" fill="#785866" text-anchor="end" stroke="#785866" stroke-width="0.18">10</text>
<text x="288.95000000000005" y="411.3" font-size="4.7" fill="#785866" text-anchor="start" stroke="#785866" stroke-width="0.18">5</text>
<line x1="294.75" y1="428.0" x2="297.85" y2="428.0" stroke="#111" stroke-width="1.1"/>
<text x="288.75" y="430.8" font-size="6.6" fill="#785866" text-anchor="end" stroke="#785866" stroke-width="0.18">10</text>
<text x="288.95000000000005" y="427.7" font-size="4.7" fill="#785866" text-anchor="start" stroke="#785866" stroke-width="0.18">4</text>
<line x1="294.75" y1="444.2" x2="297.85" y2="444.2" stroke="#111" stroke-width="1.1"/>
<text x="288.75" y="447.0" font-size="6.6" fill="#785866" text-anchor="end" stroke="#785866" stroke-width="0.18">10</text>
<text x="288.95000000000005" y="443.9" font-size="4.7" fill="#785866" text-anchor="start" stroke="#785866" stroke-width="0.18">3</text>
<line x1="294.75" y1="460.2" x2="297.85" y2="460.2" stroke="#111" stroke-width="1.1"/>
<text x="288.75" y="463.0" font-size="6.6" fill="#785866" text-anchor="end" stroke="#785866" stroke-width="0.18">10</text>
<text x="288.95000000000005" y="459.9" font-size="4.7" fill="#785866" text-anchor="start" stroke="#785866" stroke-width="0.18">2</text>
<line x1="294.75" y1="476.3" x2="297.85" y2="476.3" stroke="#111" stroke-width="1.1"/>
<text x="291.25" y="479.1" font-size="6.6" fill="#785866" text-anchor="end" stroke="#785866" stroke-width="0.18">10</text>
<line x1="294.75" y1="492.5" x2="299.25" y2="492.5" stroke="#111" stroke-width="1.1"/>
<text x="291.25" y="495.3" font-size="6.6" fill="#785866" text-anchor="end" stroke="#785866" stroke-width="0.18">1</text>
<line x1="294.75" y1="507.3" x2="297.85" y2="507.3" stroke="#111" stroke-width="1.1"/>
<text x="291.25" y="510.1" font-size="6.6" fill="#785866" text-anchor="end" stroke="#785866" stroke-width="0.18">0</text>
<line x1="482.3" y1="393.0" x2="482.3" y2="507.90000000000003" stroke="#111" stroke-width="1.6"/>
<line x1="482.3" y1="507.3" x2="485.1" y2="507.3" stroke="#111" stroke-width="1.1"/>
<text x="488.1" y="510.0" font-size="7.0" fill="#545a6a" text-anchor="start" stroke="#545a6a" stroke-width="0.18">0</text>
<line x1="482.3" y1="484.96000000000004" x2="485.1" y2="484.96000000000004" stroke="#111" stroke-width="1.1"/>
<text x="488.1" y="487.66" font-size="7.0" fill="#545a6a" text-anchor="start" stroke="#545a6a" stroke-width="0.18">20</text>
<line x1="482.3" y1="462.62" x2="485.1" y2="462.62" stroke="#111" stroke-width="1.1"/>
<text x="488.1" y="465.32" font-size="7.0" fill="#545a6a" text-anchor="start" stroke="#545a6a" stroke-width="0.18">40</text>
<line x1="482.3" y1="440.28000000000003" x2="485.1" y2="440.28000000000003" stroke="#111" stroke-width="1.1"/>
<text x="488.1" y="442.98" font-size="7.0" fill="#545a6a" text-anchor="start" stroke="#545a6a" stroke-width="0.18">60</text>
<line x1="482.3" y1="417.94" x2="485.1" y2="417.94" stroke="#111" stroke-width="1.1"/>
<text x="488.1" y="420.64" font-size="7.0" fill="#545a6a" text-anchor="start" stroke="#545a6a" stroke-width="0.18">80</text>
<line x1="482.3" y1="395.6" x2="485.1" y2="395.6" stroke="#111" stroke-width="1.1"/>
<text x="488.1" y="398.3" font-size="7.0" fill="#545a6a" text-anchor="start" stroke="#545a6a" stroke-width="0.18">100</text>
<line x1="297.85" y1="507.3" x2="482.3" y2="507.3" stroke="#111" stroke-width="1.6"/>
<line x1="298.0" y1="507.3" x2="298.0" y2="510.7" stroke="#111" stroke-width="1.1"/>
<text x="298.0" y="519.8" font-size="6.6" fill="#3a3a3a" text-anchor="middle" stroke="#3a3a3a" stroke-width="0.22">0</text>
<line x1="315.15" y1="507.3" x2="315.15" y2="510.7" stroke="#111" stroke-width="1.1"/>
<text x="315.15" y="519.8" font-size="6.6" fill="#3a3a3a" text-anchor="middle" stroke="#3a3a3a" stroke-width="0.22">10</text>
<line x1="332.3" y1="507.3" x2="332.3" y2="510.7" stroke="#111" stroke-width="1.1"/>
<text x="332.3" y="519.8" font-size="6.6" fill="#3a3a3a" text-anchor="middle" stroke="#3a3a3a" stroke-width="0.22">20</text>
<line x1="349.45" y1="507.3" x2="349.45" y2="510.7" stroke="#111" stroke-width="1.1"/>
<text x="349.45" y="519.8" font-size="6.6" fill="#3a3a3a" text-anchor="middle" stroke="#3a3a3a" stroke-width="0.22">30</text>
<line x1="366.6" y1="507.3" x2="366.6" y2="510.7" stroke="#111" stroke-width="1.1"/>
<text x="366.6" y="519.8" font-size="6.6" fill="#3a3a3a" text-anchor="middle" stroke="#3a3a3a" stroke-width="0.22">40</text>
<line x1="383.75" y1="507.3" x2="383.75" y2="510.7" stroke="#111" stroke-width="1.1"/>
<text x="383.75" y="519.8" font-size="6.6" fill="#3a3a3a" text-anchor="middle" stroke="#3a3a3a" stroke-width="0.22">50</text>
<line x1="400.9" y1="507.3" x2="400.9" y2="510.7" stroke="#111" stroke-width="1.1"/>
<text x="400.9" y="519.8" font-size="6.6" fill="#3a3a3a" text-anchor="middle" stroke="#3a3a3a" stroke-width="0.22">60</text>
<line x1="418.05" y1="507.3" x2="418.05" y2="510.7" stroke="#111" stroke-width="1.1"/>
<text x="418.05" y="519.8" font-size="6.6" fill="#3a3a3a" text-anchor="middle" stroke="#3a3a3a" stroke-width="0.22">70</text>
<line x1="435.20000000000005" y1="507.3" x2="435.20000000000005" y2="510.7" stroke="#111" stroke-width="1.1"/>
<text x="435.20000000000005" y="519.8" font-size="6.6" fill="#3a3a3a" text-anchor="middle" stroke="#3a3a3a" stroke-width="0.22">80</text>
<line x1="452.35" y1="507.3" x2="452.35" y2="510.7" stroke="#111" stroke-width="1.1"/>
<text x="452.35" y="519.8" font-size="6.6" fill="#3a3a3a" text-anchor="middle" stroke="#3a3a3a" stroke-width="0.22">90</text>
<line x1="469.5" y1="507.3" x2="469.5" y2="510.7" stroke="#111" stroke-width="1.1"/>
<text x="469.5" y="519.8" font-size="6.6" fill="#3a3a3a" text-anchor="middle" stroke="#3a3a3a" stroke-width="0.22">100</text>
<line x1="297.85" y1="460.5" x2="482.3" y2="460.5" stroke="#111" stroke-width="1" stroke-dasharray="3,2"/>
<text x="275.7" y="451.2" font-size="9.2" fill="#a3385c" text-anchor="middle" textLength="102" lengthAdjust="spacingAndGlyphs" transform="rotate(-90 275.7 451.2)" stroke="#a3385c" stroke-width="0.2">CLL clones per 1 million WBC</text>
<text x="505.3" y="451.15" font-size="8.7" fill="#4a5676" text-anchor="middle" textLength="118.7" lengthAdjust="spacingAndGlyphs" transform="rotate(90 505.3 451.15)" stroke="#4a5676" stroke-width="0.2">Blood donor CD3 T cell percentage</text>
<text x="390.8" y="531.9" font-size="9.6" fill="#222" text-anchor="middle" textLength="71" lengthAdjust="spacingAndGlyphs" stroke="#222" stroke-width="0.22">Month post allo-HCT</text>
<text x="445.5" y="495.4" font-size="6.4" fill="#454545" text-anchor="start" textLength="29.5" lengthAdjust="spacingAndGlyphs">RELAPSE</text>
<line x1="460.8" y1="496.5" x2="460.8" y2="503.5" stroke="#222" stroke-width="1.3"/>
<path d="M458.20,501.90 L463.40,501.90 L460.80,507.50 Z" fill="#111"/>
<polyline points="298.80,395.00 301.50,396.60 303.90,398.00 308.00,396.20 321.20,395.70 340.30,401.20 350.50,410.00 357.00,398.00 359.30,401.90 360.40,426.60 362.00,409.60 363.90,396.60 367.40,395.70 392.00,396.60 459.50,396.30 469.50,397.00" fill="none" stroke="#3c5373" stroke-width="1.1" stroke-linejoin="round"/>
<circle cx="298.80" cy="395.00" r="1.98" fill="#38465e" stroke="#0d131b" stroke-width="0.95"/>
<circle cx="301.50" cy="396.60" r="1.98" fill="#38465e" stroke="#0d131b" stroke-width="0.95"/>
<circle cx="303.90" cy="398.00" r="1.98" fill="#38465e" stroke="#0d131b" stroke-width="0.95"/>
<circle cx="308.00" cy="396.20" r="1.98" fill="#38465e" stroke="#0d131b" stroke-width="0.95"/>
<circle cx="321.20" cy="395.70" r="1.98" fill="#38465e" stroke="#0d131b" stroke-width="0.95"/>
<circle cx="340.30" cy="401.20" r="1.98" fill="#38465e" stroke="#0d131b" stroke-width="0.95"/>
<circle cx="350.50" cy="410.00" r="1.98" fill="#38465e" stroke="#0d131b" stroke-width="0.95"/>
<circle cx="357.00" cy="398.00" r="1.98" fill="#38465e" stroke="#0d131b" stroke-width="0.95"/>
<circle cx="359.30" cy="401.90" r="1.98" fill="#38465e" stroke="#0d131b" stroke-width="0.95"/>
<circle cx="360.40" cy="426.60" r="1.98" fill="#38465e" stroke="#0d131b" stroke-width="0.95"/>
<circle cx="362.00" cy="409.60" r="1.98" fill="#38465e" stroke="#0d131b" stroke-width="0.95"/>
<circle cx="363.90" cy="396.60" r="1.98" fill="#38465e" stroke="#0d131b" stroke-width="0.95"/>
<circle cx="367.40" cy="395.70" r="1.98" fill="#38465e" stroke="#0d131b" stroke-width="0.95"/>
<circle cx="392.00" cy="396.60" r="1.98" fill="#38465e" stroke="#0d131b" stroke-width="0.95"/>
<circle cx="459.50" cy="396.30" r="1.98" fill="#38465e" stroke="#0d131b" stroke-width="0.95"/>
<circle cx="469.50" cy="397.00" r="1.98" fill="#38465e" stroke="#0d131b" stroke-width="0.95"/>
<polyline points="298.00,417.40 299.70,455.80 303.40,455.80 308.00,465.50 313.10,470.00 318.20,456.20 329.30,433.60 339.00,414.60 349.60,404.20 358.80,408.90 363.90,425.70 367.40,470.00 370.00,485.00 380.50,507.30 439.50,480.50 449.30,460.00 460.00,462.00 470.00,507.30 475.50,507.30" fill="none" stroke="#8e1b3f" stroke-width="1.45" stroke-linejoin="round"/>
<rect x="295.85" y="415.25" width="4.3" height="4.3" fill="#801436" stroke="#4a0a1e" stroke-width="0.6"/>
<rect x="297.55" y="453.65" width="4.3" height="4.3" fill="#801436" stroke="#4a0a1e" stroke-width="0.6"/>
<rect x="301.25" y="453.65" width="4.3" height="4.3" fill="#801436" stroke="#4a0a1e" stroke-width="0.6"/>
<rect x="305.85" y="463.35" width="4.3" height="4.3" fill="#801436" stroke="#4a0a1e" stroke-width="0.6"/>
<rect x="310.95" y="467.85" width="4.3" height="4.3" fill="#801436" stroke="#4a0a1e" stroke-width="0.6"/>
<rect x="316.05" y="454.05" width="4.3" height="4.3" fill="#801436" stroke="#4a0a1e" stroke-width="0.6"/>
<rect x="327.15" y="431.45" width="4.3" height="4.3" fill="#801436" stroke="#4a0a1e" stroke-width="0.6"/>
<rect x="336.85" y="412.45" width="4.3" height="4.3" fill="#801436" stroke="#4a0a1e" stroke-width="0.6"/>
<rect x="347.45" y="402.05" width="4.3" height="4.3" fill="#801436" stroke="#4a0a1e" stroke-width="0.6"/>
<rect x="356.65" y="406.75" width="4.3" height="4.3" fill="#801436" stroke="#4a0a1e" stroke-width="0.6"/>
<rect x="361.75" y="423.55" width="4.3" height="4.3" fill="#801436" stroke="#4a0a1e" stroke-width="0.6"/>
<rect x="365.25" y="467.85" width="4.3" height="4.3" fill="#801436" stroke="#4a0a1e" stroke-width="0.6"/>
<rect x="367.85" y="482.85" width="4.3" height="4.3" fill="#801436" stroke="#4a0a1e" stroke-width="0.6"/>
<rect x="378.35" y="505.15" width="4.3" height="4.3" fill="#801436" stroke="#4a0a1e" stroke-width="0.6"/>
<rect x="437.35" y="478.35" width="4.3" height="4.3" fill="#801436" stroke="#4a0a1e" stroke-width="0.6"/>
<rect x="447.15" y="457.85" width="4.3" height="4.3" fill="#801436" stroke="#4a0a1e" stroke-width="0.6"/>
<rect x="457.85" y="459.85" width="4.3" height="4.3" fill="#801436" stroke="#4a0a1e" stroke-width="0.6"/>
<rect x="467.85" y="505.15" width="4.3" height="4.3" fill="#801436" stroke="#4a0a1e" stroke-width="0.6"/>
<rect x="473.35" y="505.15" width="4.3" height="4.3" fill="#801436" stroke="#4a0a1e" stroke-width="0.6"/></svg>
</body></html>
